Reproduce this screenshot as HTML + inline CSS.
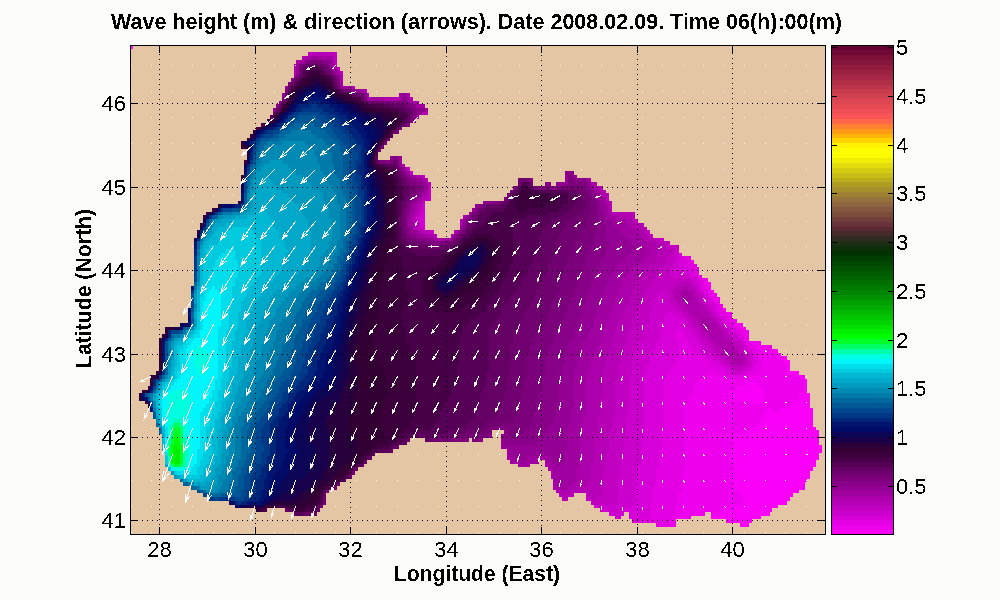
<!DOCTYPE html><html><head><meta charset="utf-8"><style>html,body{margin:0;padding:0;background:#fcfdfb;overflow:hidden}svg{display:block}text{font-family:"Liberation Sans",sans-serif;font-size:22px;fill:#000}</style></head><body><svg width="1000" height="600" viewBox="0 0 1000 600" shape-rendering="crispEdges"><defs><filter id="crisp" x="0" y="0" width="1000" height="600" filterUnits="userSpaceOnUse" color-interpolation-filters="sRGB"><feComponentTransfer><feFuncA type="discrete" tableValues="0 1"/></feComponentTransfer></filter></defs><rect width="1000" height="600" fill="#fcfdfb"/><rect x="130" y="45" width="695" height="489" fill="#e4c6a4"/><path fill="#f900f9" d="M708 282h3v4h-3zM740 323h3v4h-3zM775 349h3v4h-3zM778 353h3v3h-3zM784 356h3v4h-3zM784 360h6v4h-6zM787 364h3v7h-3zM787 371h12v4h-12zM799 375h6v4h-6zM746 382h12v4h-12zM737 386h24v4h-24zM805 379h2v11h-2zM802 390h5v3h-5zM729 390h35v3h-35zM732 393h32v4h-32zM734 397h30v4h-30zM799 393h11v8h-11zM793 401h17v3h-17zM752 401h12v3h-12zM790 404h20v4h-20zM781 408h32v4h-32zM767 408h5v4h-5zM764 412h49v7h-49zM761 419h52v4h-52zM758 423h55v4h-55zM752 427h64v3h-64zM746 430h73v4h-73zM734 434h85v4h-85zM732 438h87v7h-87zM732 445h90v8h-90zM732 453h87v7h-87zM732 460h84v7h-84zM732 467h81v4h-81zM732 471h78v8h-78zM732 479h75v3h-75zM732 482h73v4h-73zM734 486h71v4h-71zM737 490h62v3h-62zM740 493h53v4h-53zM743 497h47v4h-47zM743 501h44v4h-44zM729 505h49v3h-49zM723 508h49v4h-49zM720 512h50v4h-50zM711 516h50v3h-50zM726 519h26v4h-26zM740 523h9v4h-9z"/><path fill="#ee00ee" d="M705 278h3v8h-3zM708 286h3v4h-3zM708 290h6v3h-6zM711 293h6v4h-6zM714 297h6v4h-6zM717 301h3v3h-3zM720 304h3v4h-3zM723 308h3v4h-3zM726 312h6v4h-6zM729 316h3v3h-3zM732 319h5v4h-5zM734 323h6v4h-6zM737 327h9v3h-9zM743 330h6v4h-6zM746 334h3v7h-3zM752 341h9v4h-9zM755 345h17v4h-17zM758 349h17v4h-17zM761 353h17v3h-17zM761 356h23v8h-23zM761 364h26v7h-26zM758 371h29v4h-29zM711 371h3v4h-3zM749 375h50v4h-50zM705 375h18v4h-18zM699 379h106v3h-106zM758 382h47v4h-47zM697 382h49v4h-49zM761 386h44v4h-44zM694 386h43v4h-43zM694 390h35v3h-35zM764 390h38v3h-38zM691 393h41v4h-41zM688 397h46v4h-46zM764 393h35v8h-35zM688 401h64v3h-64zM764 401h29v3h-29zM685 404h105v4h-105zM772 408h9v4h-9zM685 408h82v4h-82zM685 412h79v7h-79zM685 419h76v4h-76zM685 423h73v4h-73zM685 427h67v3h-67zM685 430h61v4h-61zM685 434h49v4h-49zM685 438h47v33h-47zM682 471h50v15h-50zM682 486h52v4h-52zM682 490h55v3h-55zM679 493h61v4h-61zM679 497h64v8h-64zM676 505h53v3h-53zM676 508h47v4h-47zM711 512h9v4h-9zM676 512h29v4h-29zM673 516h18v3h-18zM673 519h3v4h-3zM670 523h6v4h-6z"/><path fill="#e300e3" d="M685 256h6v4h-6zM688 260h6v4h-6zM688 264h9v3h-9zM691 267h8v4h-8zM694 271h5v4h-5zM697 275h5v3h-5zM699 278h6v4h-6zM702 282h3v4h-3zM702 286h6v4h-6zM705 290h3v3h-3zM708 293h3v4h-3zM711 297h3v4h-3zM714 301h3v3h-3zM717 304h3v4h-3zM717 308h6v4h-6zM720 312h6v4h-6zM726 316h3v3h-3zM726 319h6v4h-6zM729 323h5v4h-5zM732 327h5v3h-5zM676 330h6v4h-6zM737 330h6v4h-6zM676 334h9v4h-9zM740 334h6v4h-6zM743 338h3v3h-3zM676 338h12v3h-12zM746 341h6v4h-6zM679 341h9v4h-9zM679 345h12v4h-12zM749 345h6v4h-6zM752 349h6v4h-6zM679 349h15v4h-15zM679 353h20v3h-20zM676 356h29v4h-29zM755 353h6v7h-6zM758 360h3v4h-3zM676 360h35v4h-35zM755 364h6v3h-6zM673 364h44v3h-44zM670 367h53v4h-53zM752 367h9v4h-9zM749 371h9v4h-9zM667 371h44v4h-44zM714 371h12v4h-12zM723 375h26v4h-26zM667 375h38v4h-38zM664 379h35v3h-35zM664 382h33v4h-33zM664 386h30v7h-30zM664 393h27v4h-27zM664 397h24v7h-24zM664 404h21v26h-21zM661 430h24v19h-24zM659 449h26v18h-26zM656 467h29v4h-29zM656 471h26v15h-26zM653 486h29v7h-29zM653 493h26v12h-26zM650 505h26v11h-26zM650 516h23v3h-23zM641 519h32v4h-32zM656 523h14v4h-14z"/><path fill="#d800d8" d="M422 212h3v15h-3zM679 253h3v3h-3zM679 256h6v4h-6zM679 260h9v7h-9zM682 267h9v4h-9zM685 271h9v4h-9zM691 275h6v3h-6zM697 278h2v4h-2zM699 282h3v8h-3zM702 290h3v3h-3zM705 293h3v4h-3zM708 297h3v4h-3zM711 301h3v3h-3zM714 304h3v8h-3zM667 312h6v4h-6zM717 312h3v4h-3zM664 316h15v3h-15zM720 316h6v3h-6zM723 319h3v4h-3zM664 319h21v4h-21zM661 323h24v4h-24zM726 323h3v4h-3zM729 327h3v3h-3zM661 327h27v3h-27zM661 330h15v4h-15zM732 330h5v4h-5zM682 330h9v4h-9zM685 334h9v4h-9zM737 334h3v4h-3zM740 338h3v3h-3zM659 334h17v7h-17zM688 338h9v3h-9zM688 341h11v4h-11zM743 341h3v4h-3zM656 341h23v8h-23zM746 345h3v4h-3zM691 345h11v4h-11zM694 349h11v4h-11zM749 349h3v4h-3zM653 349h26v7h-26zM699 353h12v3h-12zM705 356h9v4h-9zM752 353h3v7h-3zM650 356h26v8h-26zM711 360h9v4h-9zM752 360h6v4h-6zM717 364h6v3h-6zM647 364h26v3h-26zM752 364h3v3h-3zM647 367h23v4h-23zM749 367h3v4h-3zM723 367h6v4h-6zM743 371h6v4h-6zM726 371h6v4h-6zM644 371h23v8h-23zM644 379h20v51h-20zM644 430h17v8h-17zM641 438h20v11h-20zM641 449h18v15h-18zM638 464h21v3h-21zM638 467h18v12h-18zM635 479h21v7h-21zM635 486h18v19h-18zM632 505h18v3h-18zM624 508h26v4h-26zM621 512h3v4h-3zM609 512h3v4h-3zM629 512h21v7h-21zM632 519h9v4h-9z"/><path fill="#cc00cc" d="M422 204h3v8h-3zM419 215h3v12h-3zM422 227h3v3h-3zM661 238h3v3h-3zM676 249h3v11h-3zM673 260h6v7h-6zM670 267h12v4h-12zM670 271h15v4h-15zM670 275h21v3h-21zM691 278h6v4h-6zM694 282h5v4h-5zM697 286h2v4h-2zM659 290h5v3h-5zM699 290h3v3h-3zM702 293h3v4h-3zM656 293h11v4h-11zM653 297h14v4h-14zM702 297h6v4h-6zM705 301h6v3h-6zM653 301h17v3h-17zM708 304h6v4h-6zM653 304h20v4h-20zM653 308h23v4h-23zM711 308h3v4h-3zM673 312h9v4h-9zM650 312h17v4h-17zM714 312h3v4h-3zM679 316h6v3h-6zM717 316h3v3h-3zM650 316h14v7h-14zM685 319h3v4h-3zM720 319h3v4h-3zM723 323h3v4h-3zM685 323h6v4h-6zM726 327h3v3h-3zM688 327h6v3h-6zM647 323h14v7h-14zM644 330h17v4h-17zM729 330h3v4h-3zM691 330h6v4h-6zM732 334h5v4h-5zM694 334h5v4h-5zM644 334h15v4h-15zM734 338h6v3h-6zM697 338h5v3h-5zM641 338h18v3h-18zM740 341h3v4h-3zM699 341h6v4h-6zM743 345h3v4h-3zM638 341h18v8h-18zM702 345h6v4h-6zM705 349h6v4h-6zM743 349h6v4h-6zM711 353h6v3h-6zM635 349h18v7h-18zM714 356h6v4h-6zM635 356h15v4h-15zM632 360h18v4h-18zM720 360h3v4h-3zM749 353h3v14h-3zM723 364h6v3h-6zM729 367h3v4h-3zM632 364h15v7h-15zM743 367h6v4h-6zM632 371h12v4h-12zM732 371h11v4h-11zM629 375h15v41h-15zM626 416h18v22h-18zM624 438h17v18h-17zM621 456h20v8h-20zM621 464h17v11h-17zM618 475h20v4h-20zM618 479h17v26h-17zM594 505h38v3h-38zM600 508h24v4h-24zM612 512h9v4h-9zM615 516h6v3h-6z"/><path fill="#c100c1" d="M334 52h3v12h-3zM407 167h3v4h-3zM410 171h3v4h-3zM422 175h3v3h-3zM428 186h3v15h-3zM422 201h3v3h-3zM419 208h3v7h-3zM635 219h3v4h-3zM416 215h3v8h-3zM419 227h3v3h-3zM428 230h6v4h-6zM647 230h3v4h-3zM650 234h3v4h-3zM656 238h5v3h-5zM667 241h3v4h-3zM667 245h12v4h-12zM673 249h3v4h-3zM670 253h6v3h-6zM667 256h9v4h-9zM667 260h6v4h-6zM664 264h9v3h-9zM659 267h11v8h-11zM656 275h14v3h-14zM653 278h38v4h-38zM650 282h29v4h-29zM691 282h3v4h-3zM647 286h26v4h-26zM694 286h3v4h-3zM697 290h2v3h-2zM647 290h12v3h-12zM664 290h9v3h-9zM644 293h12v4h-12zM644 297h9v4h-9zM667 293h6v8h-6zM699 293h3v8h-3zM641 301h12v3h-12zM670 301h6v3h-6zM702 301h3v3h-3zM673 304h6v4h-6zM705 304h3v4h-3zM708 308h3v4h-3zM676 308h6v4h-6zM638 304h15v8h-15zM711 312h3v4h-3zM682 312h6v4h-6zM635 312h15v7h-15zM714 316h3v3h-3zM685 316h6v3h-6zM717 319h3v4h-3zM688 319h6v4h-6zM632 319h18v4h-18zM720 323h3v4h-3zM691 323h3v4h-3zM632 323h15v4h-15zM694 327h5v3h-5zM629 327h18v3h-18zM723 327h3v3h-3zM697 330h5v4h-5zM726 330h3v4h-3zM629 330h15v4h-15zM699 334h3v4h-3zM729 334h3v4h-3zM626 334h18v4h-18zM732 338h2v3h-2zM626 338h15v3h-15zM702 338h6v3h-6zM705 341h6v4h-6zM626 341h12v4h-12zM734 341h6v4h-6zM624 345h14v4h-14zM737 345h6v4h-6zM708 345h6v4h-6zM740 349h3v4h-3zM624 349h11v4h-11zM711 349h6v4h-6zM717 353h3v3h-3zM743 353h6v3h-6zM720 356h6v4h-6zM621 353h14v7h-14zM723 360h6v4h-6zM746 356h3v8h-3zM621 360h11v4h-11zM743 364h6v3h-6zM729 364h3v3h-3zM732 367h11v4h-11zM618 364h14v11h-14zM618 375h11v7h-11zM615 382h14v34h-14zM612 416h14v14h-14zM609 430h17v8h-17zM609 438h15v15h-15zM606 453h18v3h-18zM606 456h15v15h-15zM603 471h18v4h-18zM586 493h2v4h-2zM603 475h15v22h-15zM597 497h21v4h-21zM586 497h5v4h-5zM591 501h27v4h-27z"/><path fill="#b600b6" d="M308 52h26v4h-26zM334 64h3v3h-3zM337 67h3v4h-3zM340 71h3v4h-3zM352 86h3v3h-3zM425 112h3v3h-3zM419 175h3v3h-3zM425 178h3v4h-3zM428 182h3v4h-3zM600 186h3v4h-3zM603 190h3v3h-3zM425 197h3v4h-3zM606 193h3v8h-3zM419 204h3v4h-3zM609 201h3v11h-3zM612 212h23v3h-23zM416 212h3v3h-3zM413 215h3v8h-3zM632 215h3v8h-3zM635 223h9v4h-9zM416 223h3v7h-3zM422 230h6v4h-6zM644 227h3v7h-3zM647 234h3v4h-3zM434 234h3v4h-3zM650 238h6v3h-6zM656 241h11v4h-11zM659 245h8v4h-8zM661 249h12v4h-12zM659 253h11v3h-11zM656 256h11v8h-11zM650 264h14v3h-14zM647 267h12v4h-12zM644 271h15v4h-15zM641 275h15v3h-15zM638 278h15v4h-15zM635 282h15v4h-15zM679 282h12v4h-12zM673 286h9v4h-9zM635 286h12v4h-12zM688 286h6v4h-6zM694 290h3v3h-3zM632 290h15v3h-15zM694 293h5v4h-5zM632 293h12v4h-12zM673 290h3v11h-3zM629 297h15v4h-15zM697 297h2v4h-2zM676 301h6v3h-6zM699 301h3v3h-3zM629 301h12v3h-12zM626 304h12v4h-12zM702 304h3v4h-3zM679 304h6v4h-6zM705 308h3v4h-3zM624 308h14v4h-14zM682 308h6v4h-6zM688 312h3v4h-3zM708 312h3v4h-3zM621 312h14v7h-14zM691 316h3v3h-3zM711 316h3v3h-3zM694 319h3v4h-3zM714 319h3v4h-3zM694 323h5v4h-5zM717 323h3v4h-3zM618 319h14v8h-14zM720 327h3v3h-3zM699 327h3v3h-3zM615 327h14v7h-14zM723 330h3v4h-3zM702 330h3v4h-3zM723 334h6v4h-6zM702 334h6v4h-6zM615 334h11v4h-11zM726 338h6v3h-6zM708 338h3v3h-3zM732 341h2v4h-2zM612 338h14v7h-14zM711 341h6v4h-6zM734 345h3v4h-3zM612 345h12v4h-12zM714 345h6v4h-6zM609 349h15v4h-15zM717 349h6v4h-6zM737 349h3v4h-3zM740 353h3v3h-3zM609 353h12v3h-12zM720 353h6v3h-6zM726 356h3v4h-3zM729 360h5v4h-5zM743 356h3v8h-3zM606 356h15v8h-15zM606 364h12v3h-12zM732 364h11v3h-11zM603 367h15v15h-15zM603 382h12v15h-12zM600 397h15v19h-15zM597 416h15v14h-15zM597 430h12v8h-12zM594 438h15v15h-15zM594 453h12v11h-12zM591 464h15v7h-15zM591 471h12v11h-12zM588 482h15v4h-15zM583 486h20v4h-20zM556 490h3v3h-3zM571 490h32v3h-32zM565 493h9v4h-9zM559 493h3v4h-3zM588 493h15v4h-15zM591 497h6v4h-6zM562 497h6v4h-6z"/><path fill="#ab00ab" d="M302 56h9v4h-9zM332 56h2v4h-2zM296 60h3v4h-3zM294 64h2v11h-2zM337 71h3v4h-3zM340 75h3v7h-3zM364 89h3v4h-3zM367 93h2v4h-2zM407 93h3v4h-3zM384 97h15v4h-15zM410 97h3v4h-3zM413 101h6v3h-6zM422 112h3v3h-3zM402 164h3v3h-3zM416 175h3v3h-3zM594 182h3v4h-3zM594 186h6v4h-6zM600 190h3v3h-3zM603 193h3v4h-3zM425 193h3v4h-3zM422 197h3v4h-3zM606 201h3v3h-3zM419 201h3v3h-3zM416 204h3v8h-3zM413 212h3v3h-3zM609 212h3v3h-3zM463 215h3v4h-3zM615 215h17v4h-17zM626 219h6v4h-6zM629 223h6v4h-6zM460 219h3v8h-3zM413 223h3v7h-3zM632 227h12v3h-12zM454 230h3v4h-3zM638 230h6v4h-6zM419 230h3v4h-3zM641 234h6v4h-6zM428 234h6v4h-6zM451 234h3v4h-3zM644 238h6v3h-6zM437 238h5v3h-5zM647 241h9v4h-9zM647 245h12v4h-12zM650 249h11v4h-11zM647 253h12v3h-12zM644 256h12v4h-12zM641 260h15v4h-15zM638 264h12v3h-12zM632 267h15v4h-15zM629 271h15v4h-15zM626 275h15v3h-15zM624 278h14v4h-14zM682 286h6v4h-6zM621 282h14v8h-14zM688 290h6v3h-6zM691 293h3v4h-3zM618 290h14v7h-14zM691 297h6v4h-6zM676 290h6v11h-6zM682 301h17v3h-17zM615 297h14v7h-14zM685 304h17v4h-17zM612 304h14v4h-14zM688 308h17v4h-17zM612 308h12v4h-12zM691 312h17v4h-17zM609 312h12v7h-12zM694 316h17v3h-17zM708 319h6v4h-6zM697 319h5v4h-5zM711 323h6v4h-6zM699 323h6v4h-6zM606 319h12v8h-12zM606 327h9v3h-9zM711 327h9v3h-9zM702 327h6v3h-6zM705 330h18v4h-18zM603 330h12v8h-12zM708 334h15v4h-15zM711 338h15v3h-15zM600 338h12v7h-12zM717 341h15v4h-15zM597 345h15v4h-15zM720 345h14v4h-14zM723 349h14v4h-14zM597 349h12v4h-12zM594 353h15v3h-15zM726 353h14v3h-14zM729 356h14v4h-14zM594 356h12v4h-12zM734 360h9v4h-9zM591 360h15v7h-15zM591 367h12v4h-12zM588 371h15v8h-15zM586 379h17v18h-17zM586 397h14v19h-14zM583 416h14v22h-14zM580 438h14v26h-14zM545 464h3v3h-3zM580 464h11v3h-11zM548 467h3v4h-3zM551 471h2v8h-2zM577 467h14v15h-14zM571 482h17v4h-17zM553 482h3v4h-3zM568 486h15v4h-15zM553 486h6v4h-6zM559 490h12v3h-12zM562 493h3v4h-3z"/><path fill="#9f009f" d="M317 56h15v4h-15zM299 60h6v4h-6zM332 60h2v7h-2zM296 64h3v3h-3zM334 67h3v4h-3zM340 82h3v4h-3zM343 86h9v3h-9zM361 89h3v4h-3zM367 97h17v4h-17zM399 93h3v8h-3zM407 97h3v4h-3zM410 101h3v3h-3zM416 104h9v4h-9zM425 108h3v4h-3zM416 115h3v4h-3zM399 160h3v4h-3zM405 167h2v4h-2zM407 171h3v4h-3zM413 175h3v3h-3zM588 178h3v4h-3zM422 178h3v4h-3zM591 182h3v4h-3zM425 182h3v11h-3zM597 190h3v3h-3zM600 193h3v4h-3zM422 193h3v4h-3zM419 197h3v4h-3zM416 201h3v3h-3zM603 197h3v7h-3zM413 204h3v8h-3zM606 204h3v11h-3zM606 215h9v4h-9zM612 219h14v4h-14zM410 212h3v15h-3zM615 223h14v4h-14zM618 227h14v3h-14zM621 230h17v4h-17zM416 230h3v4h-3zM624 234h17v4h-17zM422 234h6v4h-6zM442 238h9v3h-9zM434 238h3v3h-3zM629 238h15v3h-15zM632 241h15v4h-15zM635 245h12v4h-12zM635 249h15v4h-15zM629 253h18v3h-18zM626 256h18v4h-18zM621 260h20v4h-20zM618 264h20v3h-20zM615 267h17v4h-17zM612 271h17v4h-17zM609 275h17v3h-17zM609 278h15v4h-15zM606 282h15v8h-15zM682 290h6v3h-6zM603 290h15v7h-15zM682 293h9v8h-9zM600 297h15v7h-15zM600 304h12v4h-12zM597 308h15v4h-15zM597 312h12v4h-12zM594 316h15v3h-15zM702 319h6v4h-6zM705 323h6v4h-6zM594 319h12v8h-12zM708 327h3v3h-3zM591 327h15v3h-15zM588 330h15v8h-15zM586 338h14v3h-14zM583 341h17v4h-17zM583 345h14v4h-14zM580 349h17v4h-17zM580 353h14v7h-14zM577 360h14v11h-14zM574 371h14v8h-14zM574 379h12v29h-12zM571 408h15v8h-15zM571 416h12v7h-12zM568 423h15v15h-15zM568 438h12v11h-12zM507 449h3v7h-3zM542 453h3v3h-3zM527 456h24v4h-24zM507 456h6v4h-6zM510 460h11v4h-11zM545 460h8v4h-8zM524 460h15v4h-15zM565 449h15v15h-15zM548 464h8v3h-8zM562 464h18v3h-18zM518 464h12v3h-12zM551 467h26v4h-26zM553 471h24v11h-24zM556 482h15v4h-15zM559 486h9v4h-9z"/><path fill="#940094" d="M311 56h6v4h-6zM329 60h3v7h-3zM332 67h2v4h-2zM334 71h3v4h-3zM296 67h3v8h-3zM294 75h2v3h-2zM340 86h3v3h-3zM285 86h3v3h-3zM355 89h6v4h-6zM402 93h5v4h-5zM282 93h3v4h-3zM419 112h3v3h-3zM413 119h3v4h-3zM399 156h3v4h-3zM399 164h3v3h-3zM402 167h3v4h-3zM405 171h2v4h-2zM410 175h3v3h-3zM574 175h3v3h-3zM586 178h2v4h-2zM416 178h6v4h-6zM565 175h3v7h-3zM556 182h9v4h-9zM422 182h3v4h-3zM588 182h3v4h-3zM591 186h3v4h-3zM594 190h3v3h-3zM422 190h3v3h-3zM597 193h3v4h-3zM419 193h3v4h-3zM597 197h6v4h-6zM416 197h3v4h-3zM483 201h3v3h-3zM413 201h3v3h-3zM600 201h3v3h-3zM475 204h3v4h-3zM600 204h6v8h-6zM410 204h3v8h-3zM472 208h3v4h-3zM469 212h3v3h-3zM466 215h3v4h-3zM603 212h3v7h-3zM463 219h3v4h-3zM603 219h9v4h-9zM407 215h3v12h-3zM606 223h9v4h-9zM410 227h3v3h-3zM606 227h12v3h-12zM460 227h3v3h-3zM410 230h6v4h-6zM606 230h15v4h-15zM457 230h3v4h-3zM416 234h6v4h-6zM606 234h18v4h-18zM606 238h23v3h-23zM431 238h3v3h-3zM609 241h23v4h-23zM609 245h26v4h-26zM606 249h29v4h-29zM606 253h23v3h-23zM603 256h23v4h-23zM600 260h21v4h-21zM600 264h18v3h-18zM597 267h18v4h-18zM597 271h15v4h-15zM594 275h15v7h-15zM591 282h15v8h-15zM588 290h15v7h-15zM586 297h14v7h-14zM583 304h17v4h-17zM583 308h14v8h-14zM580 316h14v7h-14zM577 323h17v4h-17zM577 327h14v3h-14zM574 330h14v8h-14zM571 338h15v3h-15zM568 341h15v8h-15zM568 349h12v4h-12zM565 353h15v7h-15zM565 360h12v4h-12zM562 364h15v7h-15zM562 371h12v4h-12zM559 375h15v29h-15zM556 404h18v4h-18zM556 408h15v8h-15zM553 416h18v7h-18zM551 423h17v4h-17zM548 427h20v3h-20zM545 430h23v8h-23zM539 438h29v4h-29zM501 442h3v3h-3zM536 442h32v3h-32zM501 445h67v4h-67zM510 449h55v4h-55zM510 453h32v3h-32zM545 453h20v3h-20zM551 456h14v4h-14zM513 456h14v4h-14zM553 460h12v4h-12zM521 460h3v4h-3zM556 464h6v3h-6z"/><path fill="#880088" d="M323 60h6v4h-6zM337 75h3v7h-3zM291 78h3v4h-3zM352 89h3v4h-3zM364 93h3v4h-3zM402 97h5v4h-5zM279 101h3v3h-3zM407 101h3v3h-3zM413 104h3v4h-3zM276 104h3v4h-3zM416 108h9v4h-9zM273 108h3v4h-3zM416 112h3v3h-3zM413 115h3v4h-3zM396 156h3v4h-3zM390 156h3v4h-3zM387 160h3v4h-3zM565 171h9v4h-9zM571 175h3v3h-3zM407 175h3v3h-3zM410 178h6v4h-6zM574 178h12v4h-12zM416 182h6v4h-6zM565 182h3v4h-3zM586 182h2v4h-2zM545 182h6v4h-6zM422 186h3v4h-3zM586 186h5v4h-5zM513 186h2v4h-2zM553 186h3v4h-3zM591 190h3v3h-3zM419 190h3v3h-3zM591 193h6v4h-6zM416 193h3v4h-3zM413 197h3v4h-3zM594 197h3v4h-3zM410 201h3v3h-3zM486 201h12v3h-12zM478 204h2v4h-2zM597 201h3v11h-3zM407 208h3v7h-3zM597 212h6v11h-6zM463 223h3v4h-3zM597 223h9v11h-9zM407 227h3v7h-3zM454 234h3v4h-3zM410 234h6v4h-6zM451 238h3v3h-3zM419 238h12v3h-12zM594 234h12v7h-12zM594 241h15v4h-15zM434 241h3v4h-3zM591 245h18v4h-18zM588 249h18v7h-18zM586 256h17v4h-17zM586 260h14v4h-14zM583 264h17v3h-17zM583 267h14v4h-14zM580 271h17v4h-17zM580 275h14v3h-14zM577 278h17v4h-17zM577 282h14v8h-14zM574 290h14v7h-14zM571 297h15v7h-15zM568 304h15v8h-15zM565 312h18v4h-18zM565 316h15v3h-15zM562 319h18v4h-18zM562 323h15v4h-15zM559 327h18v3h-18zM559 330h15v4h-15zM556 334h18v4h-18zM553 338h18v3h-18zM553 341h15v4h-15zM551 345h17v4h-17zM548 349h20v4h-20zM548 353h17v3h-17zM545 356h20v8h-20zM545 364h17v11h-17zM542 375h17v15h-17zM539 390h20v11h-20zM536 401h23v3h-23zM536 404h20v8h-20zM533 412h23v4h-23zM533 416h20v7h-20zM530 423h21v4h-21zM530 427h18v3h-18zM498 427h9v3h-9zM524 430h21v4h-21zM504 430h3v4h-3zM501 434h9v4h-9zM489 434h3v4h-3zM518 434h27v4h-27zM478 438h5v4h-5zM501 438h38v4h-38zM466 438h3v4h-3zM504 442h32v3h-32z"/><path fill="#7c007c" d="M317 60h6v4h-6zM305 60h9v4h-9zM299 64h3v3h-3zM326 64h3v3h-3zM329 67h3v4h-3zM332 71h2v4h-2zM296 75h3v3h-3zM288 82h3v4h-3zM337 82h3v4h-3zM285 89h3v4h-3zM282 97h3v4h-3zM364 97h3v4h-3zM384 101h23v3h-23zM407 104h6v4h-6zM413 108h3v7h-3zM410 119h3v4h-3zM407 123h3v4h-3zM396 130h3v4h-3zM393 156h3v4h-3zM381 160h6v4h-6zM390 160h3v4h-3zM399 167h3v4h-3zM402 171h3v4h-3zM405 175h2v3h-2zM568 175h3v3h-3zM530 178h3v4h-3zM568 178h6v4h-6zM407 178h3v4h-3zM568 182h18v4h-18zM410 182h6v4h-6zM583 186h3v4h-3zM536 186h9v4h-9zM551 186h2v4h-2zM556 186h3v4h-3zM416 186h6v4h-6zM586 190h5v3h-5zM416 190h3v3h-3zM588 193h3v4h-3zM507 193h3v4h-3zM413 193h3v4h-3zM504 197h3v4h-3zM591 197h3v4h-3zM410 197h3v4h-3zM498 201h3v3h-3zM407 201h3v7h-3zM480 204h3v4h-3zM475 208h3v4h-3zM472 212h3v3h-3zM591 201h6v14h-6zM588 215h9v4h-9zM469 215h3v4h-3zM466 219h3v4h-3zM586 219h11v8h-11zM463 227h3v3h-3zM583 227h14v3h-14zM405 208h2v22h-2zM580 230h17v4h-17zM460 230h3v4h-3zM457 234h3v4h-3zM580 234h14v4h-14zM407 234h3v4h-3zM577 238h17v3h-17zM413 238h6v3h-6zM428 241h6v4h-6zM437 241h11v4h-11zM574 241h20v4h-20zM574 245h17v4h-17zM571 249h17v7h-17zM568 256h18v8h-18zM565 264h18v7h-18zM565 271h15v4h-15zM562 275h18v3h-18zM562 278h15v4h-15zM559 282h18v8h-18zM559 290h15v3h-15zM556 293h18v4h-18zM556 297h15v4h-15zM553 301h18v3h-18zM551 304h17v8h-17zM548 312h17v7h-17zM545 319h17v8h-17zM542 327h17v3h-17zM539 330h20v4h-20zM536 334h20v4h-20zM533 338h20v7h-20zM530 345h21v4h-21zM530 349h18v7h-18zM527 356h18v19h-18zM527 375h15v4h-15zM524 379h18v11h-18zM521 390h18v11h-18zM518 401h18v11h-18zM518 412h15v4h-15zM515 416h18v3h-18zM513 419h20v4h-20zM501 423h29v4h-29zM489 427h9v3h-9zM507 427h23v3h-23zM507 430h17v4h-17zM489 430h3v4h-3zM480 434h9v4h-9zM510 434h8v4h-8zM469 434h3v4h-3zM451 438h15v4h-15zM472 438h6v4h-6z"/><path fill="#710071" d="M314 60h3v4h-3zM302 64h3v3h-3zM323 64h3v3h-3zM326 67h3v4h-3zM299 67h3v8h-3zM329 71h3v4h-3zM334 75h3v3h-3zM337 86h3v3h-3zM346 89h6v4h-6zM361 93h3v4h-3zM369 101h15v3h-15zM405 104h2v4h-2zM410 108h3v4h-3zM410 115h3v4h-3zM405 123h2v4h-2zM399 127h3v3h-3zM387 138h3v3h-3zM384 141h3v4h-3zM381 145h3v4h-3zM378 149h3v3h-3zM378 160h3v4h-3zM396 160h3v7h-3zM399 171h3v4h-3zM402 175h3v3h-3zM518 178h12v4h-12zM405 178h2v4h-2zM518 182h3v4h-3zM407 182h3v4h-3zM530 182h3v4h-3zM545 186h6v4h-6zM533 186h3v4h-3zM515 186h3v4h-3zM559 186h24v4h-24zM510 190h3v3h-3zM410 186h6v7h-6zM577 190h9v3h-9zM410 193h3v4h-3zM583 193h5v4h-5zM407 197h3v4h-3zM583 197h8v4h-8zM501 201h3v3h-3zM405 201h2v7h-2zM483 204h3v4h-3zM586 201h5v7h-5zM583 208h8v4h-8zM478 208h2v4h-2zM475 212h3v3h-3zM580 212h11v3h-11zM574 215h14v4h-14zM472 215h3v4h-3zM469 219h3v4h-3zM568 219h18v4h-18zM466 223h3v4h-3zM565 223h21v4h-21zM402 208h3v22h-3zM562 227h21v3h-21zM402 230h5v4h-5zM562 230h18v4h-18zM463 230h3v4h-3zM405 234h2v4h-2zM559 234h21v4h-21zM454 238h3v3h-3zM559 238h18v3h-18zM407 238h6v3h-6zM448 241h6v4h-6zM416 241h12v4h-12zM556 241h18v8h-18zM428 245h12v4h-12zM556 249h15v4h-15zM553 253h18v3h-18zM553 256h15v4h-15zM551 260h17v4h-17zM548 264h17v7h-17zM545 271h20v4h-20zM545 275h17v3h-17zM542 278h20v4h-20zM539 282h20v8h-20zM536 290h23v3h-23zM536 293h20v4h-20zM533 297h23v4h-23zM530 301h23v3h-23zM530 304h21v4h-21zM527 308h24v4h-24zM524 312h24v7h-24zM521 319h24v4h-24zM518 323h27v4h-27zM518 327h24v3h-24zM515 330h24v4h-24zM513 334h23v4h-23zM513 338h20v7h-20zM510 345h20v11h-20zM510 356h17v19h-17zM507 375h20v4h-20zM507 379h17v11h-17zM504 390h17v11h-17zM501 401h17v7h-17zM498 408h20v8h-20zM495 416h20v3h-20zM489 419h24v4h-24zM486 423h15v4h-15zM483 427h6v3h-6zM466 430h23v4h-23zM472 434h8v4h-8zM460 434h9v4h-9zM431 438h20v4h-20zM352 471h3v4h-3zM349 475h3v4h-3zM334 486h3v4h-3zM326 490h3v3h-3zM323 497h3v8h-3zM320 505h3v3h-3z"/><path fill="#650065" d="M317 64h6v3h-6zM305 64h6v3h-6zM302 67h3v4h-3zM323 67h3v4h-3zM326 71h3v4h-3zM332 75h2v3h-2zM299 75h3v3h-3zM294 78h5v4h-5zM334 78h3v8h-3zM291 82h3v4h-3zM288 86h3v3h-3zM340 89h6v4h-6zM285 93h3v4h-3zM352 93h9v4h-9zM361 97h3v4h-3zM367 101h2v3h-2zM282 101h3v3h-3zM279 104h3v4h-3zM393 104h12v4h-12zM276 108h3v4h-3zM405 108h5v4h-5zM410 112h3v3h-3zM273 112h3v3h-3zM407 119h3v4h-3zM402 123h3v4h-3zM393 130h3v4h-3zM375 156h3v4h-3zM393 160h3v4h-3zM390 164h3v3h-3zM396 167h3v4h-3zM399 175h3v3h-3zM402 178h3v4h-3zM402 182h5v4h-5zM405 186h5v4h-5zM568 190h9v3h-9zM513 190h2v3h-2zM407 190h3v3h-3zM405 193h5v4h-5zM507 197h3v4h-3zM577 193h6v8h-6zM405 197h2v4h-2zM504 201h3v3h-3zM577 201h9v3h-9zM486 204h15v4h-15zM574 204h12v4h-12zM402 201h3v7h-3zM571 208h12v4h-12zM480 208h6v4h-6zM565 212h15v3h-15zM478 212h2v3h-2zM475 215h3v4h-3zM559 215h15v4h-15zM472 219h3v4h-3zM551 219h17v4h-17zM548 223h17v4h-17zM399 215h3v12h-3zM469 223h6v4h-6zM466 227h6v3h-6zM542 227h20v7h-20zM402 234h3v4h-3zM460 234h3v4h-3zM457 238h3v3h-3zM402 238h5v3h-5zM539 234h20v7h-20zM454 241h3v4h-3zM407 241h9v4h-9zM539 241h17v8h-17zM413 245h15v4h-15zM440 245h11v4h-11zM536 249h20v4h-20zM536 253h17v3h-17zM533 256h20v4h-20zM533 260h18v4h-18zM530 264h18v3h-18zM527 267h21v4h-21zM527 271h18v4h-18zM524 275h21v3h-21zM521 278h21v4h-21zM521 282h18v4h-18zM518 286h21v4h-21zM515 290h21v3h-21zM513 293h23v4h-23zM510 297h23v4h-23zM507 301h23v3h-23zM504 304h26v4h-26zM501 308h26v4h-26zM501 312h23v4h-23zM498 316h26v3h-26zM495 319h26v4h-26zM492 323h26v4h-26zM489 327h29v3h-29zM489 330h26v4h-26zM489 334h24v11h-24zM489 345h21v26h-21zM486 371h24v4h-24zM486 375h21v11h-21zM483 386h24v4h-24zM483 390h21v3h-21zM480 393h24v8h-24zM478 401h23v7h-23zM475 408h23v8h-23zM475 416h20v3h-20zM472 419h17v4h-17zM466 423h20v4h-20zM460 427h23v3h-23zM448 430h18v4h-18zM437 434h23v4h-23zM419 434h6v4h-6zM425 438h6v4h-6zM407 438h3v4h-3zM402 442h5v3h-5zM393 445h6v4h-6zM390 449h3v4h-3zM369 456h3v4h-3zM364 460h3v4h-3zM361 464h3v3h-3zM355 467h3v4h-3zM337 482h3v4h-3zM323 493h3v4h-3zM317 508h3v4h-3zM285 508h3v4h-3zM294 512h2v4h-2zM305 512h12v4h-12z"/><path fill="#570057" d="M311 64h6v3h-6zM320 67h3v4h-3zM305 67h3v4h-3zM323 71h3v4h-3zM329 75h3v3h-3zM302 71h3v7h-3zM332 78h2v4h-2zM294 82h2v4h-2zM334 86h3v3h-3zM288 89h3v4h-3zM285 97h3v4h-3zM364 101h3v3h-3zM384 104h9v4h-9zM399 108h6v4h-6zM405 112h5v3h-5zM270 115h3v4h-3zM407 115h3v4h-3zM405 119h2v4h-2zM396 127h3v3h-3zM390 134h3v4h-3zM375 160h3v4h-3zM384 164h6v3h-6zM393 164h3v7h-3zM396 171h3v7h-3zM521 182h3v4h-3zM399 178h3v8h-3zM527 182h3v4h-3zM530 186h3v4h-3zM518 186h3v4h-3zM402 186h3v4h-3zM515 190h3v3h-3zM402 190h5v3h-5zM539 190h29v3h-29zM402 193h3v8h-3zM510 193h3v8h-3zM507 201h3v3h-3zM568 193h9v11h-9zM562 204h12v4h-12zM501 204h6v4h-6zM486 208h18v4h-18zM559 208h12v4h-12zM548 212h17v3h-17zM399 201h3v14h-3zM480 212h12v3h-12zM527 215h32v4h-32zM478 215h11v4h-11zM475 219h11v4h-11zM515 219h36v4h-36zM475 223h8v4h-8zM513 223h35v4h-35zM472 227h6v3h-6zM466 230h6v4h-6zM513 227h29v7h-29zM463 234h6v4h-6zM399 227h3v14h-3zM460 238h3v3h-3zM513 234h26v7h-26zM457 241h3v4h-3zM402 241h5v4h-5zM405 245h8v4h-8zM451 245h3v4h-3zM515 241h24v8h-24zM410 249h38v4h-38zM515 249h21v4h-21zM513 253h23v3h-23zM416 253h24v3h-24zM513 256h20v8h-20zM510 264h20v3h-20zM510 267h17v4h-17zM507 271h20v4h-20zM507 275h17v3h-17zM504 278h17v4h-17zM501 282h20v4h-20zM501 286h17v4h-17zM498 290h17v3h-17zM495 293h18v4h-18zM492 297h18v4h-18zM489 301h18v3h-18zM486 304h18v4h-18zM486 308h15v4h-15zM480 312h21v4h-21zM475 316h23v3h-23zM469 319h26v4h-26zM466 323h26v4h-26zM463 327h26v7h-26zM460 334h29v30h-29zM457 364h32v7h-32zM457 371h29v11h-29zM454 382h32v4h-32zM454 386h29v4h-29zM451 390h32v3h-32zM451 393h29v4h-29zM448 397h32v4h-32zM445 401h33v7h-33zM442 408h33v4h-33zM440 412h35v7h-35zM437 419h35v4h-35zM434 423h32v4h-32zM431 427h29v3h-29zM416 430h32v4h-32zM425 434h12v4h-12zM407 434h12v4h-12zM402 438h5v4h-5zM396 442h6v3h-6zM390 445h3v4h-3zM378 449h12v4h-12zM372 453h3v3h-3zM367 456h2v4h-2zM358 464h3v3h-3zM352 467h3v4h-3zM349 471h3v4h-3zM346 475h3v4h-3zM343 479h3v3h-3zM329 486h5v4h-5zM323 490h3v3h-3zM320 501h3v4h-3zM317 505h3v3h-3zM314 508h3v4h-3zM288 508h6v4h-6zM296 512h9v4h-9z"/><path fill="#470047" d="M308 67h12v4h-12zM320 71h3v4h-3zM326 75h3v3h-3zM305 71h3v7h-3zM329 78h3v4h-3zM299 78h3v4h-3zM332 82h2v4h-2zM296 82h3v4h-3zM291 86h3v3h-3zM337 89h3v4h-3zM288 93h3v4h-3zM349 93h3v4h-3zM355 97h6v4h-6zM361 101h3v3h-3zM285 101h3v3h-3zM369 104h15v4h-15zM279 108h3v4h-3zM390 108h9v4h-9zM399 112h6v3h-6zM402 115h5v4h-5zM402 119h3v4h-3zM267 119h3v4h-3zM399 123h3v4h-3zM261 123h3v4h-3zM256 127h3v3h-3zM390 130h3v4h-3zM384 138h3v3h-3zM381 141h3v4h-3zM378 145h3v4h-3zM375 152h3v4h-3zM378 164h6v3h-6zM387 167h6v4h-6zM390 171h6v4h-6zM393 175h3v3h-3zM396 178h3v8h-3zM524 182h3v4h-3zM396 186h6v4h-6zM527 186h3v4h-3zM521 186h3v4h-3zM530 190h9v3h-9zM518 190h3v3h-3zM399 190h3v7h-3zM513 193h5v4h-5zM548 193h20v4h-20zM513 197h2v4h-2zM396 197h6v4h-6zM510 201h5v3h-5zM556 197h12v7h-12zM545 204h17v4h-17zM507 204h8v4h-8zM527 208h32v4h-32zM504 208h14v4h-14zM492 212h56v3h-56zM489 215h38v4h-38zM486 219h29v4h-29zM483 223h30v4h-30zM478 227h35v3h-35zM472 230h41v4h-41zM469 234h6v4h-6zM492 234h21v4h-21zM463 238h6v3h-6zM498 238h15v3h-15zM396 201h3v40h-3zM460 241h3v4h-3zM396 241h6v4h-6zM396 245h9v4h-9zM454 245h6v4h-6zM448 249h6v4h-6zM501 241h14v12h-14zM399 249h11v4h-11zM440 253h8v3h-8zM399 253h17v3h-17zM402 256h43v4h-43zM402 260h38v4h-38zM501 253h12v11h-12zM402 264h35v3h-35zM402 267h29v4h-29zM498 264h12v7h-12zM402 271h26v4h-26zM405 275h20v3h-20zM495 271h12v7h-12zM492 278h12v4h-12zM405 278h17v4h-17zM492 282h9v4h-9zM489 286h12v4h-12zM486 290h12v3h-12zM407 282h15v11h-15zM410 293h12v4h-12zM483 293h12v4h-12zM478 297h14v4h-14zM407 297h15v4h-15zM407 301h18v3h-18zM472 301h17v3h-17zM466 304h20v4h-20zM405 304h23v4h-23zM460 308h26v4h-26zM402 308h32v4h-32zM402 312h78v4h-78zM402 316h73v3h-73zM402 319h67v4h-67zM402 323h64v4h-64zM405 327h58v7h-58zM405 334h55v4h-55zM407 338h53v7h-53zM410 345h50v8h-50zM413 353h47v7h-47zM416 360h44v4h-44zM416 364h41v18h-41zM416 382h38v8h-38zM416 390h35v7h-35zM416 397h32v4h-32zM416 401h29v7h-29zM413 408h29v4h-29zM413 412h27v7h-27zM410 419h27v4h-27zM410 423h24v4h-24zM407 427h24v3h-24zM402 430h14v4h-14zM399 434h8v4h-8zM396 438h6v4h-6zM390 442h6v3h-6zM381 445h9v4h-9zM372 449h6v4h-6zM369 453h3v3h-3zM364 456h3v4h-3zM361 460h3v4h-3zM355 464h3v3h-3zM340 479h3v3h-3zM334 482h3v4h-3zM326 486h3v4h-3zM320 493h3v8h-3zM317 501h3v4h-3zM314 505h3v3h-3zM279 505h6v3h-6zM294 508h2v4h-2zM305 508h9v4h-9zM261 508h6v4h-6z"/><path fill="#3b003b" d="M308 71h12v4h-12zM320 75h6v3h-6zM308 75h3v3h-3zM302 78h3v4h-3zM326 78h3v4h-3zM299 82h3v4h-3zM329 82h3v4h-3zM332 86h2v3h-2zM294 86h2v3h-2zM334 89h3v4h-3zM291 89h3v4h-3zM343 93h6v4h-6zM349 97h6v4h-6zM288 97h3v4h-3zM358 101h3v3h-3zM364 104h5v4h-5zM282 104h3v4h-3zM375 108h15v4h-15zM276 112h3v3h-3zM393 112h6v3h-6zM273 115h3v4h-3zM396 115h6v8h-6zM396 123h3v4h-3zM393 127h3v3h-3zM387 134h3v4h-3zM250 134h3v4h-3zM375 149h3v3h-3zM244 160h3v4h-3zM375 164h3v3h-3zM381 167h6v4h-6zM387 171h3v4h-3zM390 175h3v3h-3zM390 178h6v4h-6zM524 186h3v4h-3zM393 182h3v8h-3zM521 190h9v3h-9zM518 193h30v4h-30zM393 190h6v7h-6zM515 197h41v7h-41zM515 204h30v4h-30zM518 208h9v4h-9zM212 208h3v4h-3zM206 212h3v3h-3zM203 215h3v4h-3zM475 234h17v4h-17zM393 197h3v41h-3zM489 238h9v3h-9zM469 238h6v3h-6zM492 241h9v4h-9zM463 241h6v4h-6zM390 238h6v11h-6zM460 245h3v4h-3zM454 249h3v4h-3zM390 249h9v4h-9zM387 253h12v3h-12zM448 253h6v3h-6zM445 256h6v4h-6zM495 245h6v15h-6zM440 260h8v4h-8zM492 260h9v4h-9zM387 256h15v8h-15zM437 264h8v3h-8zM492 264h6v3h-6zM489 267h9v4h-9zM431 267h9v4h-9zM489 271h6v4h-6zM428 271h9v4h-9zM384 264h18v11h-18zM486 275h9v3h-9zM425 275h9v3h-9zM483 278h9v4h-9zM384 275h21v7h-21zM480 282h12v4h-12zM475 286h14v4h-14zM422 278h9v15h-9zM469 290h17v3h-17zM381 282h26v11h-26zM422 293h12v4h-12zM381 293h29v4h-29zM463 293h20v4h-20zM457 297h21v4h-21zM422 297h15v4h-15zM378 297h29v7h-29zM425 301h47v3h-47zM378 304h27v4h-27zM428 304h38v4h-38zM434 308h26v4h-26zM378 308h24v11h-24zM375 319h27v8h-27zM375 327h30v7h-30zM372 334h33v4h-33zM372 338h35v7h-35zM372 345h38v8h-38zM372 353h41v3h-41zM375 356h38v4h-38zM378 360h38v4h-38zM381 364h35v3h-35zM384 367h32v8h-32zM387 375h29v22h-29zM384 397h32v11h-32zM381 408h32v11h-32zM381 419h29v8h-29zM381 427h26v3h-26zM384 430h18v4h-18zM384 434h15v4h-15zM381 438h15v4h-15zM375 442h15v3h-15zM372 445h9v4h-9zM369 449h3v4h-3zM364 453h5v3h-5zM361 456h3v4h-3zM358 460h3v4h-3zM352 464h3v3h-3zM349 467h3v4h-3zM343 471h6v4h-6zM340 475h6v4h-6zM334 479h6v3h-6zM329 482h5v4h-5zM323 486h3v4h-3zM320 490h3v3h-3zM317 493h3v8h-3zM314 501h3v4h-3zM270 505h9v3h-9zM308 505h6v3h-6zM285 505h3v3h-3zM296 508h9v4h-9z"/><path fill="#320032" d="M311 75h9v3h-9zM305 78h6v4h-6zM320 78h6v4h-6zM326 82h3v4h-3zM302 82h6v4h-6zM329 86h3v3h-3zM296 86h6v3h-6zM294 89h2v4h-2zM337 93h6v4h-6zM291 93h3v4h-3zM346 97h3v4h-3zM288 101h3v3h-3zM355 101h3v3h-3zM285 104h3v4h-3zM361 104h3v4h-3zM282 108h3v4h-3zM367 108h8v4h-8zM384 112h9v3h-9zM390 115h6v4h-6zM270 119h3v4h-3zM264 123h3v4h-3zM393 119h3v8h-3zM259 127h2v3h-2zM390 127h3v3h-3zM387 130h3v4h-3zM384 134h3v4h-3zM247 138h3v3h-3zM381 138h3v3h-3zM378 141h3v4h-3zM241 141h3v4h-3zM241 145h6v4h-6zM372 156h3v8h-3zM378 167h3v4h-3zM381 171h6v4h-6zM241 175h3v7h-3zM384 175h6v7h-6zM387 182h6v15h-6zM238 201h3v3h-3zM218 204h3v4h-3zM390 197h3v11h-3zM200 223h3v4h-3zM387 208h6v30h-6zM475 238h14v3h-14zM489 241h3v4h-3zM469 241h6v4h-6zM384 238h6v7h-6zM463 245h6v4h-6zM489 245h6v4h-6zM381 245h9v8h-9zM457 249h6v4h-6zM454 253h6v3h-6zM492 249h3v7h-3zM451 256h3v4h-3zM489 256h6v4h-6zM489 260h3v4h-3zM378 253h9v11h-9zM448 260h6v4h-6zM486 264h6v3h-6zM445 264h6v3h-6zM440 267h5v4h-5zM483 267h6v4h-6zM480 271h9v4h-9zM437 271h5v4h-5zM478 275h8v3h-8zM434 275h3v3h-3zM375 264h9v14h-9zM472 278h11v4h-11zM372 278h12v4h-12zM466 282h14v4h-14zM431 278h3v12h-3zM460 286h15v4h-15zM372 282h9v11h-9zM457 290h12v3h-12zM431 290h6v3h-6zM451 293h12v4h-12zM434 293h8v4h-8zM369 293h12v4h-12zM369 297h9v4h-9zM437 297h20v4h-20zM367 301h11v15h-11zM364 316h14v3h-14zM364 319h11v8h-11zM165 330h3v4h-3zM361 327h14v7h-14zM162 334h3v4h-3zM358 334h14v11h-14zM355 345h17v11h-17zM355 356h20v4h-20zM355 360h23v4h-23zM358 364h23v3h-23zM159 338h3v33h-3zM358 367h26v8h-26zM156 371h3v4h-3zM150 375h6v4h-6zM150 379h3v7h-3zM358 375h29v15h-29zM148 386h2v4h-2zM142 390h3v3h-3zM355 390h32v7h-32zM145 401h3v3h-3zM355 397h29v11h-29zM352 408h29v8h-29zM349 416h32v14h-32zM349 430h35v4h-35zM352 434h32v4h-32zM355 438h26v4h-26zM358 442h17v3h-17zM358 445h14v4h-14zM358 449h11v4h-11zM355 453h9v3h-9zM352 456h9v4h-9zM349 460h9v4h-9zM343 464h9v3h-9zM340 467h9v4h-9zM337 471h6v4h-6zM334 475h6v4h-6zM329 479h5v3h-5zM323 482h6v4h-6zM317 486h6v4h-6zM314 490h6v3h-6zM311 493h6v4h-6zM308 497h9v4h-9zM302 501h12v4h-12zM264 505h6v3h-6zM288 505h20v3h-20zM259 508h2v4h-2z"/><path fill="#28003b" d="M311 78h9v4h-9zM308 82h6v4h-6zM320 82h6v4h-6zM326 86h3v3h-3zM302 86h3v3h-3zM296 89h3v4h-3zM329 89h5v4h-5zM294 93h2v4h-2zM334 93h3v4h-3zM291 97h3v4h-3zM340 97h6v4h-6zM349 101h6v3h-6zM358 104h3v4h-3zM361 108h6v4h-6zM279 112h3v3h-3zM369 112h15v3h-15zM276 115h3v4h-3zM381 115h9v4h-9zM273 119h3v4h-3zM384 119h9v4h-9zM387 123h6v4h-6zM387 127h3v3h-3zM253 130h3v4h-3zM384 130h3v4h-3zM375 145h3v4h-3zM372 152h3v4h-3zM372 164h3v3h-3zM375 167h3v4h-3zM375 171h6v4h-6zM378 175h6v3h-6zM381 178h3v4h-3zM381 182h6v11h-6zM384 193h3v4h-3zM384 197h6v11h-6zM384 208h3v19h-3zM197 230h3v4h-3zM381 227h6v11h-6zM378 238h6v3h-6zM475 241h14v4h-14zM375 241h9v4h-9zM469 245h11v4h-11zM483 245h6v4h-6zM463 249h6v4h-6zM375 245h6v8h-6zM460 253h3v3h-3zM486 249h6v7h-6zM454 256h6v4h-6zM372 253h6v11h-6zM454 260h3v4h-3zM483 256h6v8h-6zM480 264h6v3h-6zM451 264h3v3h-3zM369 264h6v7h-6zM445 267h6v4h-6zM478 267h5v4h-5zM475 271h5v4h-5zM442 271h6v4h-6zM367 271h8v7h-8zM469 275h9v3h-9zM437 275h5v3h-5zM434 278h6v4h-6zM463 278h9v4h-9zM457 282h9v4h-9zM367 278h5v8h-5zM454 286h6v4h-6zM434 282h3v8h-3zM448 290h9v3h-9zM364 286h8v7h-8zM437 290h5v3h-5zM442 293h9v4h-9zM361 293h8v8h-8zM358 301h9v15h-9zM355 316h9v11h-9zM165 327h9v3h-9zM355 327h6v3h-6zM352 330h9v4h-9zM352 334h6v7h-6zM349 341h9v4h-9zM349 345h6v19h-6zM349 364h9v15h-9zM346 379h12v7h-12zM343 386h15v4h-15zM145 390h3v3h-3zM343 390h12v3h-12zM340 393h15v8h-15zM139 393h3v8h-3zM337 401h18v3h-18zM334 404h21v4h-21zM332 408h20v4h-20zM329 412h23v4h-23zM329 416h20v3h-20zM326 419h23v11h-23zM329 430h20v4h-20zM329 434h23v4h-23zM329 438h26v4h-26zM329 442h29v11h-29zM329 453h26v3h-26zM329 456h23v4h-23zM329 460h20v4h-20zM329 464h14v3h-14zM326 467h14v4h-14zM323 471h14v4h-14zM323 475h11v4h-11zM317 479h12v3h-12zM314 482h9v4h-9zM311 486h6v4h-6zM305 490h9v3h-9zM299 493h12v4h-12zM294 497h14v4h-14zM273 501h29v4h-29zM253 505h3v3h-3zM256 508h3v4h-3z"/><path fill="#19004a" d="M314 82h6v4h-6zM305 86h9v3h-9zM320 86h6v3h-6zM299 89h6v4h-6zM326 89h3v4h-3zM332 93h2v4h-2zM296 93h3v4h-3zM294 97h2v4h-2zM334 97h6v4h-6zM343 101h6v3h-6zM291 101h3v3h-3zM352 104h6v4h-6zM288 104h3v4h-3zM285 108h3v4h-3zM355 108h6v4h-6zM361 112h8v3h-8zM282 112h3v3h-3zM369 115h12v4h-12zM375 119h9v4h-9zM267 123h3v4h-3zM378 123h9v4h-9zM381 127h6v3h-6zM261 127h3v3h-3zM381 130h3v8h-3zM253 134h3v4h-3zM378 138h3v3h-3zM375 141h3v4h-3zM372 149h3v3h-3zM247 145h3v11h-3zM369 160h3v7h-3zM244 164h3v3h-3zM372 167h3v8h-3zM375 175h3v3h-3zM375 178h6v8h-6zM378 186h3v7h-3zM215 208h3v4h-3zM209 212h3v3h-3zM378 193h6v34h-6zM378 227h3v3h-3zM375 230h6v8h-6zM194 238h3v3h-3zM372 238h6v3h-6zM372 241h3v8h-3zM480 245h3v4h-3zM369 249h6v4h-6zM469 249h17v4h-17zM478 253h8v3h-8zM463 253h6v3h-6zM480 256h3v4h-3zM460 256h3v4h-3zM478 260h5v4h-5zM457 260h3v4h-3zM367 253h5v11h-5zM475 264h5v3h-5zM454 264h6v3h-6zM364 264h5v7h-5zM472 267h6v4h-6zM451 267h6v4h-6zM466 271h9v4h-9zM364 271h3v4h-3zM448 271h6v4h-6zM460 275h9v3h-9zM442 275h9v3h-9zM454 278h9v4h-9zM440 278h5v4h-5zM361 275h6v11h-6zM437 282h5v4h-5zM451 282h6v4h-6zM437 286h17v4h-17zM442 290h6v3h-6zM358 286h6v7h-6zM355 293h6v8h-6zM352 301h6v15h-6zM349 316h6v14h-6zM174 327h6v3h-6zM165 334h3v4h-3zM346 330h6v11h-6zM346 341h3v4h-3zM343 345h6v26h-6zM159 371h3v4h-3zM340 371h9v8h-9zM156 375h3v4h-3zM340 379h6v3h-6zM337 382h9v4h-9zM337 386h6v4h-6zM332 390h11v3h-11zM329 393h11v4h-11zM323 397h17v4h-17zM317 401h20v3h-20zM148 404h2v4h-2zM314 404h20v4h-20zM314 408h18v4h-18zM311 412h18v7h-18zM311 419h15v4h-15zM308 423h18v7h-18zM308 430h21v12h-21zM311 442h18v3h-18zM314 445h15v19h-15zM311 464h18v3h-18zM311 467h15v4h-15zM308 471h15v4h-15zM305 475h18v4h-18zM299 479h18v3h-18zM296 482h18v4h-18zM291 486h20v4h-20zM288 490h17v3h-17zM282 493h17v4h-17zM276 497h18v4h-18zM267 501h6v4h-6zM261 505h3v3h-3zM244 505h9v3h-9zM256 505h3v3h-3z"/><path fill="#0c0454" d="M314 86h6v3h-6zM320 89h6v4h-6zM305 89h9v4h-9zM326 93h6v4h-6zM299 93h6v4h-6zM329 97h5v4h-5zM296 97h6v4h-6zM337 101h6v3h-6zM294 101h2v3h-2zM291 104h3v4h-3zM346 104h6v4h-6zM288 108h3v4h-3zM349 108h6v4h-6zM355 112h6v3h-6zM361 115h8v4h-8zM279 115h3v4h-3zM276 119h3v4h-3zM367 119h8v4h-8zM369 123h9v4h-9zM270 123h3v4h-3zM372 127h9v3h-9zM256 130h3v4h-3zM375 130h6v8h-6zM250 138h3v3h-3zM375 138h3v3h-3zM244 141h3v4h-3zM372 141h3v8h-3zM369 152h3v8h-3zM247 156h3v8h-3zM367 160h2v7h-2zM369 167h3v8h-3zM372 175h3v11h-3zM372 186h6v4h-6zM241 182h3v8h-3zM203 219h3v4h-3zM375 190h3v33h-3zM372 223h6v7h-6zM200 227h3v3h-3zM372 230h3v4h-3zM197 234h3v4h-3zM369 234h6v4h-6zM369 238h3v3h-3zM367 241h5v8h-5zM364 249h5v4h-5zM469 253h9v3h-9zM463 256h17v4h-17zM364 253h3v7h-3zM460 260h18v4h-18zM361 260h6v4h-6zM460 264h15v3h-15zM361 264h3v3h-3zM457 267h15v4h-15zM358 267h6v8h-6zM454 271h12v4h-12zM358 275h3v3h-3zM451 275h9v3h-9zM445 278h9v4h-9zM442 282h9v4h-9zM355 278h6v8h-6zM355 286h3v4h-3zM352 290h6v3h-6zM352 293h3v4h-3zM349 297h6v4h-6zM349 301h3v3h-3zM346 304h6v12h-6zM346 316h3v3h-3zM180 323h8v4h-8zM343 319h6v11h-6zM343 330h3v4h-3zM162 338h3v3h-3zM340 334h6v11h-6zM337 345h6v11h-6zM334 356h9v15h-9zM334 371h6v8h-6zM332 379h8v3h-8zM326 382h11v4h-11zM323 386h14v4h-14zM317 390h15v3h-15zM148 390h2v3h-2zM314 393h15v4h-15zM311 397h12v4h-12zM308 401h9v3h-9zM305 404h9v8h-9zM302 412h9v4h-9zM299 416h12v7h-12zM296 423h12v4h-12zM294 427h14v15h-14zM296 442h15v3h-15zM296 445h18v4h-18zM299 449h15v7h-15zM296 456h18v8h-18zM294 464h17v3h-17zM291 467h20v4h-20zM288 471h20v4h-20zM285 475h20v4h-20zM282 479h17v3h-17zM279 482h17v4h-17zM279 486h12v4h-12zM276 490h12v3h-12zM273 493h9v4h-9zM270 497h6v4h-6zM229 501h3v4h-3zM264 501h3v4h-3zM238 505h6v3h-6zM259 505h2v3h-2z"/><path fill="#010a66" d="M314 89h6v4h-6zM317 93h9v4h-9zM305 93h9v4h-9zM323 97h6v4h-6zM302 97h6v4h-6zM329 101h8v3h-8zM296 101h6v3h-6zM337 104h9v4h-9zM294 104h2v4h-2zM291 108h3v4h-3zM343 108h6v4h-6zM285 112h3v3h-3zM349 112h6v3h-6zM355 115h6v4h-6zM282 115h3v4h-3zM279 119h3v4h-3zM358 119h9v4h-9zM273 123h3v4h-3zM361 123h8v4h-8zM264 127h3v3h-3zM364 127h8v3h-8zM259 130h2v4h-2zM367 130h8v8h-8zM369 138h6v3h-6zM247 141h3v4h-3zM369 141h3v11h-3zM367 152h2v8h-2zM367 167h2v8h-2zM244 167h3v8h-3zM367 175h5v7h-5zM369 182h3v8h-3zM241 190h3v3h-3zM369 190h6v11h-6zM221 204h11v4h-11zM212 212h3v3h-3zM206 215h3v4h-3zM372 201h3v18h-3zM369 219h6v4h-6zM369 223h3v7h-3zM367 230h5v4h-5zM367 234h2v4h-2zM364 238h5v3h-5zM364 241h3v8h-3zM361 249h3v7h-3zM358 256h6v4h-6zM358 260h3v7h-3zM355 267h3v8h-3zM352 275h6v3h-6zM352 278h3v8h-3zM349 286h6v4h-6zM349 290h3v3h-3zM346 293h6v4h-6zM346 297h3v4h-3zM343 301h6v3h-6zM343 304h3v8h-3zM188 308h3v4h-3zM340 312h6v7h-6zM188 316h3v7h-3zM340 319h3v8h-3zM180 327h3v3h-3zM337 327h6v7h-6zM334 334h6v7h-6zM332 341h8v4h-8zM332 345h5v4h-5zM329 349h8v7h-8zM326 356h8v15h-8zM323 371h11v8h-11zM320 379h12v3h-12zM314 382h12v4h-12zM150 386h3v4h-3zM311 386h12v4h-12zM308 390h9v3h-9zM305 393h9v4h-9zM142 397h3v4h-3zM302 397h9v4h-9zM299 401h9v3h-9zM296 404h9v4h-9zM294 408h11v4h-11zM294 412h8v4h-8zM291 416h8v3h-8zM288 419h11v4h-11zM288 423h8v4h-8zM285 427h9v15h-9zM285 442h11v7h-11zM288 449h11v4h-11zM285 453h14v3h-14zM285 456h11v4h-11zM282 460h14v4h-14zM282 464h12v3h-12zM279 467h12v4h-12zM276 471h12v4h-12zM273 475h12v4h-12zM273 479h9v3h-9zM270 482h9v8h-9zM270 490h6v3h-6zM267 493h6v4h-6zM264 497h6v4h-6zM261 501h3v4h-3zM232 501h3v4h-3zM235 505h3v3h-3z"/><path fill="#001470" d="M314 93h3v4h-3zM308 97h15v4h-15zM302 101h6v3h-6zM320 101h9v3h-9zM329 104h8v4h-8zM296 104h3v4h-3zM294 108h2v4h-2zM334 108h9v4h-9zM288 112h3v3h-3zM340 112h9v3h-9zM346 115h9v4h-9zM285 115h3v4h-3zM282 119h3v4h-3zM349 119h9v4h-9zM276 123h3v4h-3zM352 123h9v4h-9zM355 127h9v3h-9zM267 127h6v3h-6zM261 130h3v4h-3zM358 130h9v4h-9zM256 134h3v4h-3zM361 134h6v4h-6zM253 138h3v3h-3zM364 138h5v11h-5zM250 145h3v7h-3zM367 149h2v3h-2zM364 152h3v30h-3zM364 182h5v4h-5zM367 186h2v15h-2zM241 193h3v11h-3zM232 204h3v4h-3zM218 208h3v4h-3zM367 201h5v18h-5zM367 219h2v8h-2zM203 223h3v4h-3zM364 227h5v3h-5zM364 230h3v8h-3zM361 238h3v7h-3zM194 241h3v8h-3zM358 245h6v4h-6zM358 249h3v7h-3zM355 256h3v8h-3zM352 264h6v3h-6zM352 267h3v8h-3zM349 275h3v11h-3zM191 286h3v4h-3zM346 286h3v4h-3zM343 290h6v3h-6zM343 293h3v4h-3zM340 297h6v4h-6zM340 301h3v3h-3zM337 304h6v8h-6zM337 312h3v4h-3zM188 312h3v4h-3zM334 316h6v7h-6zM332 323h8v4h-8zM188 323h3v4h-3zM332 327h5v3h-5zM329 330h8v4h-8zM329 334h5v4h-5zM326 338h8v3h-8zM326 341h6v4h-6zM323 345h9v4h-9zM323 349h6v4h-6zM320 353h9v3h-9zM320 356h6v4h-6zM162 341h3v23h-3zM317 360h9v11h-9zM314 371h9v8h-9zM311 379h9v3h-9zM308 382h6v4h-6zM305 386h6v4h-6zM299 390h9v3h-9zM296 393h9v4h-9zM142 393h3v4h-3zM294 397h8v4h-8zM145 397h3v4h-3zM148 401h2v3h-2zM291 401h8v3h-8zM288 404h8v4h-8zM288 408h6v4h-6zM150 408h3v4h-3zM285 412h9v4h-9zM282 416h9v3h-9zM279 419h9v8h-9zM276 427h9v22h-9zM276 449h12v4h-12zM276 453h9v7h-9zM273 460h9v7h-9zM270 467h9v4h-9zM267 471h9v4h-9zM267 475h6v4h-6zM264 479h9v3h-9zM264 482h6v8h-6zM261 490h9v3h-9zM261 493h6v4h-6zM259 497h5v4h-5zM247 501h14v4h-14z"/><path fill="#002579" d="M308 101h12v3h-12zM317 104h12v4h-12zM299 104h12v4h-12zM323 108h11v4h-11zM296 108h6v4h-6zM329 112h11v3h-11zM291 112h3v3h-3zM337 115h9v4h-9zM340 119h9v4h-9zM343 123h9v4h-9zM279 123h3v4h-3zM346 127h9v3h-9zM273 127h3v3h-3zM264 130h3v4h-3zM349 130h9v4h-9zM352 134h9v4h-9zM259 134h2v4h-2zM355 138h9v3h-9zM250 141h3v4h-3zM358 141h6v4h-6zM361 145h3v4h-3zM361 149h6v3h-6zM250 152h3v8h-3zM361 152h3v12h-3zM247 164h3v3h-3zM358 164h6v11h-6zM244 175h3v7h-3zM361 175h3v11h-3zM361 186h6v4h-6zM235 204h6v4h-6zM364 190h3v37h-3zM200 230h3v4h-3zM361 227h3v11h-3zM197 238h3v3h-3zM358 238h3v7h-3zM355 245h3v8h-3zM194 249h3v7h-3zM352 253h6v3h-6zM352 256h3v8h-3zM349 264h3v11h-3zM346 275h3v7h-3zM343 282h6v4h-6zM343 286h3v4h-3zM340 290h3v3h-3zM337 293h6v4h-6zM337 297h3v4h-3zM334 301h6v3h-6zM332 304h5v8h-5zM329 312h8v4h-8zM329 316h5v3h-5zM326 319h8v4h-8zM326 323h6v4h-6zM323 327h9v3h-9zM323 330h6v4h-6zM320 334h9v4h-9zM168 330h3v8h-3zM165 338h3v3h-3zM320 338h6v3h-6zM317 341h9v4h-9zM314 345h9v8h-9zM314 353h6v3h-6zM311 356h9v4h-9zM311 360h6v7h-6zM162 364h3v7h-3zM308 367h9v4h-9zM308 371h6v4h-6zM305 375h9v4h-9zM302 379h9v3h-9zM153 379h3v7h-3zM299 382h9v4h-9zM296 386h9v4h-9zM294 390h5v3h-5zM150 390h3v3h-3zM288 393h8v4h-8zM288 397h6v4h-6zM285 401h6v3h-6zM282 404h6v4h-6zM279 408h9v4h-9zM279 412h6v4h-6zM276 416h6v3h-6zM273 419h6v4h-6zM270 423h9v4h-9zM270 427h6v29h-6zM267 456h9v4h-9zM267 460h6v4h-6zM264 464h9v3h-9zM261 467h9v4h-9zM261 471h6v4h-6zM259 475h8v4h-8zM256 479h8v11h-8zM256 490h5v3h-5zM253 493h8v4h-8zM250 497h9v4h-9zM226 497h3v4h-3zM241 501h6v4h-6zM235 501h3v4h-3z"/><path fill="#003888" d="M311 104h6v4h-6zM302 108h21v4h-21zM294 112h5v3h-5zM320 112h9v3h-9zM326 115h11v4h-11zM288 115h6v4h-6zM332 119h8v4h-8zM285 119h3v4h-3zM282 123h3v4h-3zM334 123h9v4h-9zM276 127h3v3h-3zM340 127h6v3h-6zM267 130h6v4h-6zM343 130h6v4h-6zM346 134h6v4h-6zM261 134h3v4h-3zM256 138h3v3h-3zM349 138h6v3h-6zM352 141h6v4h-6zM253 141h3v8h-3zM352 145h9v4h-9zM355 149h6v3h-6zM358 152h3v8h-3zM355 160h6v4h-6zM250 160h3v4h-3zM247 167h3v4h-3zM355 164h3v11h-3zM355 175h6v7h-6zM358 182h3v8h-3zM358 190h6v7h-6zM221 208h2v4h-2zM215 212h3v3h-3zM209 215h3v4h-3zM361 197h3v26h-3zM206 219h3v4h-3zM358 223h6v4h-6zM203 227h3v3h-3zM358 227h3v7h-3zM355 234h6v4h-6zM355 238h3v7h-3zM352 245h3v8h-3zM349 253h3v11h-3zM194 256h3v15h-3zM346 264h3v11h-3zM343 275h3v7h-3zM340 282h3v4h-3zM337 286h6v4h-6zM191 290h3v3h-3zM334 290h6v3h-6zM332 293h5v4h-5zM329 297h8v4h-8zM326 301h8v3h-8zM326 304h6v4h-6zM323 308h9v4h-9zM323 312h6v4h-6zM320 316h9v3h-9zM320 319h6v4h-6zM317 323h9v4h-9zM317 327h6v3h-6zM314 330h9v4h-9zM314 334h6v4h-6zM311 338h9v3h-9zM311 341h6v4h-6zM308 345h6v8h-6zM305 353h9v3h-9zM305 356h6v8h-6zM302 364h9v3h-9zM302 367h6v4h-6zM162 371h3v4h-3zM299 371h9v4h-9zM299 375h6v4h-6zM159 375h3v4h-3zM294 379h8v3h-8zM291 382h8v4h-8zM288 386h8v4h-8zM285 390h9v3h-9zM282 393h6v8h-6zM279 401h6v3h-6zM150 404h3v4h-3zM276 404h6v4h-6zM273 408h6v4h-6zM270 412h9v4h-9zM267 416h9v3h-9zM267 419h6v4h-6zM264 423h6v4h-6zM261 427h9v18h-9zM264 445h6v8h-6zM261 453h9v3h-9zM261 456h6v8h-6zM256 464h8v3h-8zM256 467h5v4h-5zM253 471h8v4h-8zM250 475h9v4h-9zM250 479h6v11h-6zM247 490h9v3h-9zM247 493h6v4h-6zM209 497h6v4h-6zM244 497h6v4h-6zM229 497h6v4h-6zM218 497h8v4h-8zM238 501h3v4h-3z"/><path fill="#00478f" d="M299 112h21v3h-21zM317 115h9v4h-9zM294 115h5v4h-5zM320 119h12v4h-12zM288 119h6v4h-6zM326 123h8v4h-8zM285 123h3v4h-3zM332 127h8v3h-8zM279 127h6v3h-6zM273 130h6v4h-6zM334 130h9v4h-9zM264 134h9v4h-9zM337 134h9v4h-9zM340 138h9v3h-9zM259 138h2v3h-2zM256 141h3v4h-3zM343 141h9v4h-9zM346 145h6v4h-6zM349 149h6v3h-6zM253 149h3v7h-3zM349 152h9v4h-9zM352 156h6v4h-6zM247 171h3v4h-3zM349 160h6v18h-6zM352 178h3v4h-3zM352 182h6v8h-6zM244 182h3v11h-3zM355 190h3v7h-3zM241 204h3v4h-3zM223 208h9v4h-9zM355 197h6v26h-6zM355 223h3v11h-3zM200 234h3v4h-3zM352 234h3v7h-3zM349 241h6v4h-6zM349 245h3v8h-3zM346 253h3v11h-3zM343 264h3v7h-3zM340 271h6v4h-6zM340 275h3v3h-3zM194 271h3v11h-3zM337 278h6v4h-6zM334 282h6v4h-6zM334 286h3v4h-3zM329 290h5v3h-5zM326 293h6v4h-6zM323 297h6v4h-6zM320 301h6v3h-6zM191 301h3v7h-3zM317 304h9v4h-9zM317 308h6v4h-6zM314 312h9v4h-9zM311 316h9v7h-9zM308 323h9v7h-9zM171 330h9v4h-9zM305 330h9v8h-9zM305 338h6v3h-6zM302 341h9v4h-9zM302 345h6v4h-6zM299 349h9v4h-9zM299 353h6v3h-6zM296 356h9v8h-9zM294 364h8v7h-8zM291 371h8v8h-8zM285 379h9v3h-9zM156 379h3v3h-3zM282 382h9v4h-9zM279 386h9v4h-9zM153 386h3v4h-3zM279 390h6v3h-6zM276 393h6v4h-6zM273 397h9v4h-9zM270 401h9v3h-9zM150 401h3v3h-3zM270 404h6v4h-6zM267 408h6v4h-6zM264 412h6v4h-6zM261 416h6v3h-6zM259 419h8v4h-8zM256 423h8v4h-8zM256 427h5v18h-5zM256 445h8v8h-8zM256 453h5v3h-5zM253 456h8v8h-8zM250 464h6v3h-6zM247 467h9v4h-9zM247 471h6v4h-6zM244 475h6v15h-6zM197 490h3v3h-3zM203 493h6v4h-6zM241 490h6v7h-6zM235 497h9v4h-9zM215 497h3v4h-3z"/><path fill="#005796" d="M299 115h18v4h-18zM294 119h26v4h-26zM288 123h6v4h-6zM314 123h12v4h-12zM285 127h3v3h-3zM320 127h12v3h-12zM279 130h3v4h-3zM326 130h8v4h-8zM273 134h6v4h-6zM329 134h8v4h-8zM261 138h9v3h-9zM334 138h6v3h-6zM337 141h6v4h-6zM259 141h2v4h-2zM340 145h6v4h-6zM256 145h3v7h-3zM340 149h9v3h-9zM343 152h6v4h-6zM343 156h9v4h-9zM253 156h3v8h-3zM250 164h3v3h-3zM247 175h3v3h-3zM343 160h6v18h-6zM346 178h6v8h-6zM349 186h3v4h-3zM349 190h6v7h-6zM244 193h3v11h-3zM232 208h9v4h-9zM218 212h3v3h-3zM212 215h3v4h-3zM206 223h3v4h-3zM352 197h3v33h-3zM203 230h3v4h-3zM349 230h6v4h-6zM349 234h3v7h-3zM346 241h3v12h-3zM343 253h3v7h-3zM340 260h6v4h-6zM340 264h3v7h-3zM337 271h3v4h-3zM334 275h6v3h-6zM334 278h3v4h-3zM329 282h5v4h-5zM326 286h8v4h-8zM320 290h9v3h-9zM317 293h9v4h-9zM191 293h3v8h-3zM314 297h9v4h-9zM311 301h9v3h-9zM308 304h9v8h-9zM191 308h3v4h-3zM305 312h9v4h-9zM305 316h6v3h-6zM302 319h9v4h-9zM191 319h3v4h-3zM302 323h6v4h-6zM299 327h9v3h-9zM183 327h3v3h-3zM180 330h3v4h-3zM299 330h6v4h-6zM296 334h9v4h-9zM294 338h11v3h-11zM168 338h3v3h-3zM294 341h8v8h-8zM291 349h8v7h-8zM165 341h3v23h-3zM288 356h8v8h-8zM285 364h9v7h-9zM282 371h9v4h-9zM279 375h12v4h-12zM276 379h9v3h-9zM273 382h9v4h-9zM273 386h6v4h-6zM270 390h9v3h-9zM267 393h9v4h-9zM145 393h3v4h-3zM267 397h6v4h-6zM148 397h2v4h-2zM264 401h6v3h-6zM261 404h9v4h-9zM259 408h8v4h-8zM256 412h8v4h-8zM253 416h8v3h-8zM153 412h3v7h-3zM253 419h6v4h-6zM250 423h6v7h-6zM247 430h9v15h-9zM250 445h6v8h-6zM247 453h9v3h-9zM247 456h6v4h-6zM244 460h9v4h-9zM244 464h6v3h-6zM241 467h6v8h-6zM238 475h6v11h-6zM186 482h2v4h-2zM235 486h9v4h-9zM235 490h6v3h-6zM200 490h3v3h-3zM221 493h20v4h-20z"/><path fill="#00689f" d="M294 123h20v4h-20zM288 127h11v3h-11zM302 127h18v3h-18zM282 130h9v4h-9zM311 130h15v4h-15zM317 134h12v4h-12zM279 134h6v4h-6zM270 138h9v3h-9zM323 138h11v3h-11zM326 141h11v4h-11zM261 141h6v4h-6zM259 145h5v4h-5zM329 145h11v7h-11zM259 149h2v3h-2zM256 152h3v8h-3zM332 152h11v12h-11zM253 164h3v3h-3zM334 164h9v11h-9zM250 167h3v8h-3zM337 175h6v3h-6zM247 178h3v8h-3zM340 178h6v8h-6zM340 186h9v4h-9zM343 190h6v7h-6zM221 212h2v3h-2zM215 215h3v4h-3zM209 219h3v4h-3zM346 197h6v33h-6zM206 227h3v3h-3zM346 230h3v8h-3zM343 238h6v3h-6zM200 238h3v3h-3zM197 241h3v8h-3zM343 241h3v8h-3zM340 249h6v4h-6zM340 253h3v3h-3zM337 256h6v4h-6zM337 260h3v4h-3zM334 264h6v7h-6zM332 271h5v4h-5zM329 275h5v3h-5zM326 278h8v4h-8zM194 282h3v4h-3zM320 282h9v4h-9zM317 286h9v4h-9zM311 290h9v3h-9zM308 293h9v4h-9zM305 297h9v4h-9zM302 301h9v3h-9zM302 304h6v4h-6zM299 308h9v4h-9zM296 312h9v4h-9zM191 312h3v7h-3zM294 316h11v3h-11zM294 319h8v4h-8zM191 323h3v4h-3zM291 323h11v4h-11zM186 327h5v3h-5zM291 327h8v3h-8zM288 330h11v4h-11zM288 334h8v4h-8zM171 334h3v4h-3zM285 338h9v7h-9zM282 345h12v4h-12zM282 349h9v4h-9zM279 353h12v3h-12zM279 356h9v4h-9zM276 360h12v4h-12zM276 364h9v3h-9zM273 367h12v4h-12zM273 371h9v4h-9zM165 364h3v11h-3zM270 375h9v4h-9zM162 375h3v4h-3zM159 379h3v3h-3zM267 379h9v3h-9zM156 382h3v4h-3zM267 382h6v4h-6zM264 386h9v4h-9zM153 390h3v3h-3zM261 390h9v3h-9zM261 393h6v4h-6zM148 393h2v4h-2zM259 397h8v4h-8zM256 401h8v3h-8zM253 404h8v4h-8zM250 408h9v4h-9zM250 412h6v4h-6zM247 416h6v3h-6zM244 419h9v4h-9zM156 423h3v4h-3zM244 423h6v4h-6zM241 427h9v3h-9zM159 430h3v4h-3zM241 430h6v15h-6zM241 445h9v8h-9zM241 453h6v7h-6zM238 460h6v7h-6zM235 467h6v4h-6zM232 471h9v4h-9zM232 475h6v7h-6zM180 479h3v3h-3zM229 482h9v4h-9zM183 482h3v4h-3zM229 486h6v4h-6zM191 486h6v4h-6zM226 490h9v3h-9zM203 490h3v3h-3zM209 493h12v4h-12z"/><path fill="#007aa9" d="M299 127h3v3h-3zM291 130h20v4h-20zM285 134h32v4h-32zM279 138h44v3h-44zM305 141h21v4h-21zM267 141h15v4h-15zM264 145h9v4h-9zM308 145h21v4h-21zM314 149h15v3h-15zM261 149h6v3h-6zM259 152h5v4h-5zM314 152h18v4h-18zM259 156h2v4h-2zM317 156h15v8h-15zM256 160h5v4h-5zM256 164h3v3h-3zM320 164h14v7h-14zM253 167h3v4h-3zM323 171h11v4h-11zM250 175h3v3h-3zM326 175h11v3h-11zM326 178h14v4h-14zM329 182h11v4h-11zM334 186h6v4h-6zM247 186h3v7h-3zM334 190h9v3h-9zM337 193h6v4h-6zM337 197h9v7h-9zM244 204h3v4h-3zM241 208h3v4h-3zM223 212h9v3h-9zM209 223h3v4h-3zM203 234h3v4h-3zM340 204h6v34h-6zM340 238h3v3h-3zM337 241h6v8h-6zM337 249h3v4h-3zM334 253h6v3h-6zM197 249h3v7h-3zM332 256h5v4h-5zM329 260h8v4h-8zM329 264h5v3h-5zM326 267h8v4h-8zM323 271h9v4h-9zM320 275h9v3h-9zM317 278h9v4h-9zM311 282h9v4h-9zM194 286h3v4h-3zM305 286h12v4h-12zM302 290h9v3h-9zM299 293h9v4h-9zM296 297h9v4h-9zM294 301h8v3h-8zM291 304h11v4h-11zM288 308h11v4h-11zM288 312h8v4h-8zM285 316h9v3h-9zM282 319h12v4h-12zM279 323h12v7h-12zM183 330h3v4h-3zM276 330h12v8h-12zM174 334h6v4h-6zM276 338h9v3h-9zM171 338h3v3h-3zM273 341h12v4h-12zM273 345h9v4h-9zM270 349h12v4h-12zM270 353h9v3h-9zM168 341h3v15h-3zM267 356h12v4h-12zM267 360h9v7h-9zM264 367h9v8h-9zM261 375h9v4h-9zM259 379h8v3h-8zM256 382h11v4h-11zM256 386h8v4h-8zM156 386h3v4h-3zM253 390h8v3h-8zM250 393h11v4h-11zM250 397h9v4h-9zM150 393h3v8h-3zM247 401h9v3h-9zM247 404h6v4h-6zM244 408h6v4h-6zM153 408h3v4h-3zM241 412h9v4h-9zM238 416h9v3h-9zM238 419h6v4h-6zM235 423h9v4h-9zM159 427h3v3h-3zM235 427h6v29h-6zM232 456h9v4h-9zM232 460h6v4h-6zM229 464h9v3h-9zM229 467h6v4h-6zM226 471h6v8h-6zM223 479h9v3h-9zM223 482h6v4h-6zM188 482h3v4h-3zM221 486h8v4h-8zM197 486h3v4h-3zM218 490h8v3h-8z"/><path fill="#008ab4" d="M282 141h23v4h-23zM273 145h35v4h-35zM267 149h47v3h-47zM264 152h50v4h-50zM261 156h56v4h-56zM261 160h9v4h-9zM282 160h35v4h-35zM259 164h5v3h-5zM288 164h32v3h-32zM291 167h29v4h-29zM256 167h5v4h-5zM296 171h27v4h-27zM253 171h3v7h-3zM302 175h24v3h-24zM305 178h21v4h-21zM311 182h18v4h-18zM250 178h3v12h-3zM314 186h20v4h-20zM320 190h14v3h-14zM323 193h14v8h-14zM326 201h11v3h-11zM326 204h14v4h-14zM247 193h3v15h-3zM244 208h3v4h-3zM232 212h9v3h-9zM218 215h5v4h-5zM329 208h11v11h-11zM212 219h3v4h-3zM209 227h3v3h-3zM206 230h3v4h-3zM332 219h8v22h-8zM200 241h3v4h-3zM329 241h8v8h-8zM326 249h11v4h-11zM323 253h11v3h-11zM320 256h12v4h-12zM320 260h9v7h-9zM317 267h9v4h-9zM314 271h9v4h-9zM311 275h9v3h-9zM305 278h12v4h-12zM197 256h3v26h-3zM299 282h12v4h-12zM296 286h9v4h-9zM194 290h3v3h-3zM291 290h11v3h-11zM288 293h11v4h-11zM285 297h11v4h-11zM282 301h12v3h-12zM194 304h3v4h-3zM279 304h12v4h-12zM276 308h12v8h-12zM273 316h12v3h-12zM270 319h12v4h-12zM270 323h9v4h-9zM191 327h3v3h-3zM267 327h12v3h-12zM267 330h9v4h-9zM180 334h3v4h-3zM264 334h12v7h-12zM264 341h9v4h-9zM261 345h12v4h-12zM261 349h9v7h-9zM259 356h8v4h-8zM168 356h3v11h-3zM256 360h11v7h-11zM253 367h11v8h-11zM253 375h8v4h-8zM165 375h3v4h-3zM250 379h9v3h-9zM162 379h3v3h-3zM247 382h9v8h-9zM244 390h9v3h-9zM244 393h6v4h-6zM241 397h9v4h-9zM241 401h6v3h-6zM153 401h3v7h-3zM238 404h9v4h-9zM235 408h9v4h-9zM235 412h6v4h-6zM156 419h3v4h-3zM232 416h6v7h-6zM232 423h3v4h-3zM229 427h6v29h-6zM226 456h6v8h-6zM223 464h6v7h-6zM221 471h5v4h-5zM218 475h8v4h-8zM218 479h5v7h-5zM191 482h3v4h-3zM215 486h6v4h-6zM206 490h12v3h-12z"/><path fill="#009abe" d="M270 160h12v4h-12zM264 164h24v3h-24zM261 167h30v4h-30zM256 171h40v4h-40zM256 175h46v3h-46zM253 178h8v4h-8zM270 178h35v4h-35zM273 182h38v4h-38zM253 182h6v4h-6zM253 186h3v4h-3zM276 186h38v4h-38zM282 190h38v3h-38zM250 190h6v3h-6zM288 193h35v4h-35zM291 197h32v4h-32zM294 201h32v3h-32zM250 193h3v15h-3zM299 204h27v4h-27zM247 208h3v4h-3zM299 208h30v4h-30zM241 212h6v3h-6zM302 212h27v3h-27zM223 215h12v4h-12zM305 215h24v4h-24zM215 219h6v4h-6zM212 223h3v4h-3zM308 219h24v11h-24zM209 230h3v4h-3zM206 234h3v4h-3zM311 230h21v11h-21zM203 238h3v3h-3zM311 241h18v8h-18zM200 245h3v4h-3zM311 249h15v4h-15zM308 253h15v3h-15zM308 256h12v4h-12zM305 260h15v7h-15zM302 267h15v4h-15zM299 271h15v4h-15zM294 275h17v3h-17zM291 278h14v4h-14zM197 282h3v4h-3zM285 282h14v4h-14zM282 286h14v4h-14zM276 290h15v3h-15zM273 293h15v4h-15zM270 297h15v4h-15zM270 301h12v3h-12zM194 293h3v11h-3zM267 304h12v4h-12zM194 308h3v4h-3zM264 308h12v8h-12zM261 316h12v3h-12zM261 319h9v4h-9zM259 323h11v4h-11zM194 319h3v8h-3zM186 330h2v4h-2zM256 327h11v7h-11zM256 334h8v4h-8zM183 334h3v4h-3zM174 338h3v3h-3zM253 338h11v7h-11zM253 345h8v4h-8zM250 349h11v7h-11zM171 341h3v19h-3zM247 356h12v4h-12zM247 360h9v7h-9zM168 367h3v8h-3zM244 367h9v12h-9zM241 379h9v3h-9zM241 382h6v4h-6zM159 382h3v4h-3zM238 386h9v4h-9zM156 390h3v3h-3zM238 390h6v3h-6zM153 393h3v4h-3zM235 393h9v4h-9zM235 397h6v4h-6zM232 401h9v3h-9zM232 404h6v4h-6zM229 408h6v8h-6zM156 416h3v3h-3zM226 416h6v11h-6zM226 427h3v3h-3zM223 430h6v23h-6zM221 453h8v3h-8zM221 456h5v8h-5zM218 464h5v3h-5zM215 467h8v4h-8zM171 471h3v4h-3zM215 471h6v4h-6zM174 475h3v4h-3zM183 479h3v3h-3zM212 475h6v7h-6zM197 482h3v4h-3zM206 482h12v4h-12zM200 486h15v4h-15z"/><path fill="#00a9c9" d="M261 178h9v4h-9zM259 182h14v4h-14zM256 186h20v4h-20zM256 190h26v3h-26zM253 193h35v4h-35zM253 197h38v4h-38zM253 201h41v3h-41zM253 204h46v4h-46zM264 208h35v4h-35zM250 208h11v4h-11zM247 212h9v3h-9zM267 212h35v3h-35zM235 215h12v4h-12zM270 215h35v4h-35zM221 219h11v4h-11zM215 223h11v4h-11zM273 219h35v8h-35zM276 227h32v3h-32zM212 227h6v3h-6zM212 230h3v4h-3zM209 234h3v4h-3zM279 230h32v8h-32zM206 238h3v3h-3zM282 238h29v3h-29zM203 241h3v4h-3zM285 241h26v8h-26zM288 249h23v4h-23zM285 253h23v7h-23zM200 249h3v15h-3zM285 260h20v4h-20zM282 264h23v3h-23zM282 267h20v4h-20zM279 271h20v4h-20zM276 275h18v3h-18zM273 278h18v4h-18zM267 282h18v4h-18zM197 286h3v4h-3zM264 286h18v4h-18zM261 290h15v3h-15zM261 293h12v4h-12zM259 297h11v4h-11zM256 301h14v3h-14zM253 304h14v4h-14zM253 308h11v4h-11zM250 312h14v4h-14zM194 312h3v7h-3zM250 316h11v3h-11zM247 319h14v4h-14zM247 323h12v4h-12zM247 327h9v7h-9zM188 330h3v4h-3zM186 334h2v4h-2zM244 334h12v4h-12zM177 338h6v3h-6zM174 341h3v4h-3zM244 338h9v7h-9zM241 345h12v4h-12zM241 349h9v7h-9zM238 356h9v11h-9zM171 360h3v11h-3zM238 367h6v8h-6zM168 375h3v4h-3zM235 375h9v4h-9zM235 379h6v3h-6zM165 379h3v3h-3zM232 382h9v4h-9zM159 386h3v4h-3zM232 386h6v7h-6zM229 393h6v8h-6zM153 397h3v4h-3zM226 401h6v7h-6zM226 408h3v4h-3zM223 412h6v4h-6zM156 408h3v8h-3zM159 423h3v4h-3zM221 416h5v14h-5zM162 434h3v4h-3zM162 449h3v4h-3zM218 430h5v23h-5zM218 453h3v3h-3zM215 456h6v8h-6zM212 464h6v3h-6zM165 464h3v3h-3zM209 467h6v8h-6zM177 475h3v4h-3zM206 475h6v4h-6zM203 479h9v3h-9zM186 479h2v3h-2zM194 482h3v4h-3zM200 482h6v4h-6z"/><path fill="#00b8d3" d="M261 208h3v4h-3zM256 212h11v3h-11zM247 215h23v4h-23zM232 219h41v4h-41zM226 223h47v4h-47zM218 227h14v3h-14zM250 227h26v3h-26zM253 230h26v4h-26zM215 230h11v4h-11zM256 234h23v4h-23zM212 234h11v4h-11zM259 238h23v3h-23zM209 238h12v3h-12zM206 241h12v4h-12zM261 241h24v8h-24zM203 245h6v4h-6zM261 249h27v4h-27zM203 249h3v11h-3zM261 253h24v11h-24zM261 264h21v7h-21zM261 271h18v4h-18zM259 275h17v3h-17zM256 278h17v4h-17zM253 282h14v4h-14zM250 286h14v4h-14zM200 264h3v26h-3zM247 290h14v7h-14zM244 297h15v4h-15zM241 301h15v3h-15zM197 290h3v22h-3zM241 304h12v8h-12zM238 312h12v7h-12zM194 327h3v3h-3zM238 319h9v11h-9zM235 330h12v4h-12zM191 330h3v4h-3zM188 334h3v4h-3zM183 338h3v3h-3zM235 334h9v7h-9zM232 341h12v4h-12zM177 341h6v4h-6zM232 345h9v11h-9zM232 356h6v11h-6zM174 345h3v22h-3zM229 367h9v8h-9zM171 371h3v8h-3zM168 379h3v3h-3zM229 375h6v7h-6zM162 382h3v4h-3zM226 382h6v11h-6zM159 390h3v3h-3zM223 393h6v8h-6zM156 393h3v15h-3zM221 401h5v11h-5zM218 412h5v4h-5zM218 416h3v3h-3zM159 419h3v4h-3zM215 419h6v11h-6zM162 427h3v7h-3zM215 430h3v4h-3zM162 438h3v11h-3zM212 434h6v22h-6zM209 456h6v8h-6zM206 464h6v3h-6zM168 467h3v4h-3zM203 467h6v8h-6zM180 475h6v4h-6zM200 475h6v4h-6zM188 479h15v3h-15z"/><path fill="#00cade" d="M232 227h18v3h-18zM226 230h27v4h-27zM223 234h33v4h-33zM221 238h38v3h-38zM218 241h43v4h-43zM209 245h52v4h-52zM206 249h20v4h-20zM206 253h15v3h-15zM206 256h12v4h-12zM235 249h26v11h-26zM203 260h12v7h-12zM203 267h9v8h-9zM238 260h23v15h-23zM238 275h21v3h-21zM235 278h21v4h-21zM203 275h6v7h-6zM235 282h18v4h-18zM203 282h3v8h-3zM232 286h18v4h-18zM232 290h15v7h-15zM200 290h3v7h-3zM232 297h12v4h-12zM232 301h9v3h-9zM229 304h12v8h-12zM197 312h3v18h-3zM229 312h9v18h-9zM194 330h3v4h-3zM191 334h3v4h-3zM186 338h2v3h-2zM226 330h9v11h-9zM183 341h3v4h-3zM177 345h6v4h-6zM226 341h6v26h-6zM177 349h3v18h-3zM174 367h6v4h-6zM174 371h3v8h-3zM223 367h6v12h-6zM221 379h8v3h-8zM171 379h3v3h-3zM165 382h3v4h-3zM221 382h5v8h-5zM162 386h3v4h-3zM218 390h8v3h-8zM159 393h3v4h-3zM218 393h5v8h-5zM215 401h6v7h-6zM212 408h9v4h-9zM212 412h6v4h-6zM209 416h9v3h-9zM159 408h3v11h-3zM209 419h6v8h-6zM162 423h3v4h-3zM206 427h9v7h-9zM206 434h6v19h-6zM203 453h9v3h-9zM203 456h6v4h-6zM200 460h9v4h-9zM165 456h3v8h-3zM200 464h6v3h-6zM174 471h3v4h-3zM197 467h6v8h-6zM186 475h14v4h-14z"/><path fill="#00deeb" d="M226 249h9v4h-9zM221 253h14v3h-14zM218 256h17v4h-17zM215 260h23v7h-23zM212 267h26v8h-26zM209 275h29v3h-29zM209 278h26v4h-26zM206 282h29v4h-29zM215 286h17v4h-17zM206 286h6v4h-6zM203 290h6v3h-6zM218 290h14v3h-14zM203 293h3v4h-3zM200 297h6v4h-6zM221 293h11v11h-11zM221 304h8v23h-8zM200 301h3v29h-3zM218 327h11v3h-11zM197 330h3v4h-3zM194 334h6v4h-6zM188 338h6v3h-6zM186 341h5v4h-5zM183 345h5v4h-5zM218 330h8v37h-8zM180 349h6v22h-6zM177 371h6v4h-6zM177 375h3v4h-3zM218 367h5v12h-5zM174 379h3v3h-3zM168 382h6v4h-6zM165 386h6v4h-6zM215 379h6v11h-6zM162 390h6v3h-6zM212 390h6v7h-6zM162 393h3v4h-3zM209 397h9v4h-9zM209 401h6v3h-6zM159 397h3v11h-3zM206 404h9v4h-9zM203 408h9v4h-9zM200 412h12v4h-12zM162 419h3v4h-3zM200 416h9v11h-9zM165 427h3v11h-3zM200 427h6v22h-6zM197 449h9v4h-9zM165 453h3v3h-3zM197 453h6v7h-6zM197 460h3v4h-3zM194 464h6v3h-6zM191 467h6v4h-6zM177 471h20v4h-20z"/><path fill="#00f6fa" d="M212 286h3v4h-3zM209 290h9v3h-9zM206 293h15v8h-15zM203 301h18v26h-18zM203 327h15v3h-15zM200 330h18v8h-18zM194 338h24v3h-24zM191 341h27v4h-27zM188 345h9v4h-9zM203 345h15v4h-15zM206 349h12v4h-12zM186 349h8v18h-8zM209 353h9v14h-9zM206 367h12v4h-12zM186 367h11v4h-11zM183 371h14v4h-14zM203 371h15v4h-15zM180 375h38v4h-38zM177 379h38v3h-38zM174 382h41v4h-41zM171 386h44v4h-44zM188 390h24v3h-24zM168 390h6v3h-6zM165 393h3v4h-3zM191 393h21v4h-21zM191 397h18v7h-18zM188 404h18v4h-18zM162 397h6v11h-6zM188 408h15v4h-15zM162 408h3v8h-3zM162 416h6v3h-6zM165 419h3v8h-3zM188 412h12v26h-12zM165 438h3v7h-3zM191 438h9v11h-9zM165 449h3v4h-3zM191 449h6v15h-6zM168 464h3v3h-3zM188 464h6v3h-6zM171 467h3v4h-3zM183 467h8v4h-8z"/><path fill="#00ffdf" d="M197 345h6v4h-6zM194 349h12v4h-12zM194 353h15v14h-15zM197 367h9v4h-9zM197 371h6v4h-6zM174 390h14v3h-14zM168 393h23v11h-23zM168 404h20v4h-20zM165 408h23v8h-23zM168 416h20v3h-20zM180 419h8v4h-8zM168 419h6v4h-6zM168 423h3v15h-3zM183 423h5v15h-5zM165 445h3v4h-3zM186 438h5v15h-5zM188 453h3v3h-3zM186 456h5v8h-5zM186 464h2v3h-2zM174 467h9v4h-9z"/><path fill="#00ffab" d="M174 419h6v4h-6zM180 423h3v4h-3zM171 423h3v4h-3zM168 438h3v7h-3zM183 438h3v15h-3zM183 453h5v3h-5zM168 456h3v8h-3zM183 456h3v11h-3z"/><path fill="#00ff62" d="M174 423h6v4h-6zM171 427h3v11h-3zM180 427h3v18h-3zM168 445h3v11h-3zM171 464h3v3h-3zM180 464h3v3h-3z"/><path fill="#00ff28" d="M174 427h6v7h-6zM177 434h3v4h-3zM171 438h3v7h-3zM180 445h3v19h-3zM174 464h6v3h-6z"/><path fill="#00fc00" d="M174 434h3v4h-3zM174 438h6v7h-6zM177 445h3v4h-3zM171 445h3v19h-3z"/><path fill="#00ee00" d="M174 445h3v4h-3zM174 449h6v15h-6z"/><rect x="131" y="46" width="2" height="3" fill="#ff00ff"/><path d="M159 54h1v1h-1zM159 59h1v1h-1zM159 64h1v1h-1zM159 69h1v1h-1zM159 74h1v1h-1zM159 79h1v1h-1zM159 84h1v1h-1zM159 89h1v1h-1zM159 94h1v1h-1zM159 99h1v1h-1zM159 104h1v1h-1zM159 109h1v1h-1zM159 114h1v1h-1zM159 119h1v1h-1zM159 124h1v1h-1zM159 129h1v1h-1zM159 134h1v1h-1zM159 139h1v1h-1zM159 144h1v1h-1zM159 149h1v1h-1zM159 154h1v1h-1zM159 159h1v1h-1zM159 164h1v1h-1zM159 169h1v1h-1zM159 174h1v1h-1zM159 179h1v1h-1zM159 184h1v1h-1zM159 189h1v1h-1zM159 194h1v1h-1zM159 199h1v1h-1zM159 204h1v1h-1zM159 209h1v1h-1zM159 214h1v1h-1zM159 219h1v1h-1zM159 224h1v1h-1zM159 229h1v1h-1zM159 234h1v1h-1zM159 239h1v1h-1zM159 244h1v1h-1zM159 249h1v1h-1zM159 254h1v1h-1zM159 259h1v1h-1zM159 264h1v1h-1zM159 269h1v1h-1zM159 274h1v1h-1zM159 279h1v1h-1zM159 284h1v1h-1zM159 289h1v1h-1zM159 294h1v1h-1zM159 299h1v1h-1zM159 304h1v1h-1zM159 309h1v1h-1zM159 314h1v1h-1zM159 319h1v1h-1zM159 324h1v1h-1zM159 329h1v1h-1zM159 334h1v1h-1zM159 339h1v1h-1zM159 344h1v1h-1zM159 349h1v1h-1zM159 354h1v1h-1zM159 359h1v1h-1zM159 364h1v1h-1zM159 369h1v1h-1zM159 374h1v1h-1zM159 379h1v1h-1zM159 384h1v1h-1zM159 389h1v1h-1zM159 394h1v1h-1zM159 399h1v1h-1zM159 404h1v1h-1zM159 409h1v1h-1zM159 414h1v1h-1zM159 419h1v1h-1zM159 424h1v1h-1zM159 429h1v1h-1zM159 434h1v1h-1zM159 439h1v1h-1zM159 444h1v1h-1zM159 449h1v1h-1zM159 454h1v1h-1zM159 459h1v1h-1zM159 464h1v1h-1zM159 469h1v1h-1zM159 474h1v1h-1zM159 479h1v1h-1zM159 484h1v1h-1zM159 489h1v1h-1zM159 494h1v1h-1zM159 499h1v1h-1zM159 504h1v1h-1zM159 509h1v1h-1zM159 514h1v1h-1zM159 519h1v1h-1zM159 524h1v1h-1zM255 53h1v1h-1zM255 58h1v1h-1zM255 63h1v1h-1zM255 68h1v1h-1zM255 73h1v1h-1zM255 78h1v1h-1zM255 83h1v1h-1zM255 88h1v1h-1zM255 93h1v1h-1zM255 98h1v1h-1zM255 103h1v1h-1zM255 108h1v1h-1zM255 113h1v1h-1zM255 118h1v1h-1zM255 123h1v1h-1zM255 128h1v1h-1zM255 133h1v1h-1zM255 138h1v1h-1zM255 143h1v1h-1zM255 148h1v1h-1zM255 153h1v1h-1zM255 158h1v1h-1zM255 163h1v1h-1zM255 168h1v1h-1zM255 173h1v1h-1zM255 178h1v1h-1zM255 183h1v1h-1zM255 188h1v1h-1zM255 193h1v1h-1zM255 198h1v1h-1zM255 203h1v1h-1zM255 208h1v1h-1zM255 213h1v1h-1zM255 218h1v1h-1zM255 223h1v1h-1zM255 228h1v1h-1zM255 233h1v1h-1zM255 238h1v1h-1zM255 243h1v1h-1zM255 248h1v1h-1zM255 253h1v1h-1zM255 258h1v1h-1zM255 263h1v1h-1zM255 268h1v1h-1zM255 273h1v1h-1zM255 278h1v1h-1zM255 283h1v1h-1zM255 288h1v1h-1zM255 293h1v1h-1zM255 298h1v1h-1zM255 303h1v1h-1zM255 308h1v1h-1zM255 313h1v1h-1zM255 318h1v1h-1zM255 323h1v1h-1zM255 328h1v1h-1zM255 333h1v1h-1zM255 338h1v1h-1zM255 343h1v1h-1zM255 348h1v1h-1zM255 353h1v1h-1zM255 358h1v1h-1zM255 363h1v1h-1zM255 368h1v1h-1zM255 373h1v1h-1zM255 378h1v1h-1zM255 383h1v1h-1zM255 388h1v1h-1zM255 393h1v1h-1zM255 398h1v1h-1zM255 403h1v1h-1zM255 408h1v1h-1zM255 413h1v1h-1zM255 418h1v1h-1zM255 423h1v1h-1zM255 428h1v1h-1zM255 433h1v1h-1zM255 438h1v1h-1zM255 443h1v1h-1zM255 448h1v1h-1zM255 453h1v1h-1zM255 458h1v1h-1zM255 463h1v1h-1zM255 468h1v1h-1zM255 473h1v1h-1zM255 478h1v1h-1zM255 483h1v1h-1zM255 488h1v1h-1zM255 493h1v1h-1zM255 498h1v1h-1zM255 503h1v1h-1zM255 508h1v1h-1zM255 513h1v1h-1zM255 518h1v1h-1zM255 523h1v1h-1zM350 57h1v1h-1zM350 62h1v1h-1zM350 67h1v1h-1zM350 72h1v1h-1zM350 77h1v1h-1zM350 82h1v1h-1zM350 87h1v1h-1zM350 92h1v1h-1zM350 97h1v1h-1zM350 102h1v1h-1zM350 107h1v1h-1zM350 112h1v1h-1zM350 117h1v1h-1zM350 122h1v1h-1zM350 127h1v1h-1zM350 132h1v1h-1zM350 137h1v1h-1zM350 142h1v1h-1zM350 147h1v1h-1zM350 152h1v1h-1zM350 157h1v1h-1zM350 162h1v1h-1zM350 167h1v1h-1zM350 172h1v1h-1zM350 177h1v1h-1zM350 182h1v1h-1zM350 187h1v1h-1zM350 192h1v1h-1zM350 197h1v1h-1zM350 202h1v1h-1zM350 207h1v1h-1zM350 212h1v1h-1zM350 217h1v1h-1zM350 222h1v1h-1zM350 227h1v1h-1zM350 232h1v1h-1zM350 237h1v1h-1zM350 242h1v1h-1zM350 247h1v1h-1zM350 252h1v1h-1zM350 257h1v1h-1zM350 262h1v1h-1zM350 267h1v1h-1zM350 272h1v1h-1zM350 277h1v1h-1zM350 282h1v1h-1zM350 287h1v1h-1zM350 292h1v1h-1zM350 297h1v1h-1zM350 302h1v1h-1zM350 307h1v1h-1zM350 312h1v1h-1zM350 317h1v1h-1zM350 322h1v1h-1zM350 327h1v1h-1zM350 332h1v1h-1zM350 337h1v1h-1zM350 342h1v1h-1zM350 347h1v1h-1zM350 352h1v1h-1zM350 357h1v1h-1zM350 362h1v1h-1zM350 367h1v1h-1zM350 372h1v1h-1zM350 377h1v1h-1zM350 382h1v1h-1zM350 387h1v1h-1zM350 392h1v1h-1zM350 397h1v1h-1zM350 402h1v1h-1zM350 407h1v1h-1zM350 412h1v1h-1zM350 417h1v1h-1zM350 422h1v1h-1zM350 427h1v1h-1zM350 432h1v1h-1zM350 437h1v1h-1zM350 442h1v1h-1zM350 447h1v1h-1zM350 452h1v1h-1zM350 457h1v1h-1zM350 462h1v1h-1zM350 467h1v1h-1zM350 472h1v1h-1zM350 477h1v1h-1zM350 482h1v1h-1zM350 487h1v1h-1zM350 492h1v1h-1zM350 497h1v1h-1zM350 502h1v1h-1zM350 507h1v1h-1zM350 512h1v1h-1zM350 517h1v1h-1zM350 522h1v1h-1zM446 56h1v1h-1zM446 61h1v1h-1zM446 66h1v1h-1zM446 71h1v1h-1zM446 76h1v1h-1zM446 81h1v1h-1zM446 86h1v1h-1zM446 91h1v1h-1zM446 96h1v1h-1zM446 101h1v1h-1zM446 106h1v1h-1zM446 111h1v1h-1zM446 116h1v1h-1zM446 121h1v1h-1zM446 126h1v1h-1zM446 131h1v1h-1zM446 136h1v1h-1zM446 141h1v1h-1zM446 146h1v1h-1zM446 151h1v1h-1zM446 156h1v1h-1zM446 161h1v1h-1zM446 166h1v1h-1zM446 171h1v1h-1zM446 176h1v1h-1zM446 181h1v1h-1zM446 186h1v1h-1zM446 191h1v1h-1zM446 196h1v1h-1zM446 201h1v1h-1zM446 206h1v1h-1zM446 211h1v1h-1zM446 216h1v1h-1zM446 221h1v1h-1zM446 226h1v1h-1zM446 231h1v1h-1zM446 236h1v1h-1zM446 241h1v1h-1zM446 246h1v1h-1zM446 251h1v1h-1zM446 256h1v1h-1zM446 261h1v1h-1zM446 266h1v1h-1zM446 271h1v1h-1zM446 276h1v1h-1zM446 281h1v1h-1zM446 286h1v1h-1zM446 291h1v1h-1zM446 296h1v1h-1zM446 301h1v1h-1zM446 306h1v1h-1zM446 311h1v1h-1zM446 316h1v1h-1zM446 321h1v1h-1zM446 326h1v1h-1zM446 331h1v1h-1zM446 336h1v1h-1zM446 341h1v1h-1zM446 346h1v1h-1zM446 351h1v1h-1zM446 356h1v1h-1zM446 361h1v1h-1zM446 366h1v1h-1zM446 371h1v1h-1zM446 376h1v1h-1zM446 381h1v1h-1zM446 386h1v1h-1zM446 391h1v1h-1zM446 396h1v1h-1zM446 401h1v1h-1zM446 406h1v1h-1zM446 411h1v1h-1zM446 416h1v1h-1zM446 421h1v1h-1zM446 426h1v1h-1zM446 431h1v1h-1zM446 436h1v1h-1zM446 441h1v1h-1zM446 446h1v1h-1zM446 451h1v1h-1zM446 456h1v1h-1zM446 461h1v1h-1zM446 466h1v1h-1zM446 471h1v1h-1zM446 476h1v1h-1zM446 481h1v1h-1zM446 486h1v1h-1zM446 491h1v1h-1zM446 496h1v1h-1zM446 501h1v1h-1zM446 506h1v1h-1zM446 511h1v1h-1zM446 516h1v1h-1zM446 521h1v1h-1zM446 526h1v1h-1zM541 55h1v1h-1zM541 60h1v1h-1zM541 65h1v1h-1zM541 70h1v1h-1zM541 75h1v1h-1zM541 80h1v1h-1zM541 85h1v1h-1zM541 90h1v1h-1zM541 95h1v1h-1zM541 100h1v1h-1zM541 105h1v1h-1zM541 110h1v1h-1zM541 115h1v1h-1zM541 120h1v1h-1zM541 125h1v1h-1zM541 130h1v1h-1zM541 135h1v1h-1zM541 140h1v1h-1zM541 145h1v1h-1zM541 150h1v1h-1zM541 155h1v1h-1zM541 160h1v1h-1zM541 165h1v1h-1zM541 170h1v1h-1zM541 175h1v1h-1zM541 180h1v1h-1zM541 185h1v1h-1zM541 190h1v1h-1zM541 195h1v1h-1zM541 200h1v1h-1zM541 205h1v1h-1zM541 210h1v1h-1zM541 215h1v1h-1zM541 220h1v1h-1zM541 225h1v1h-1zM541 230h1v1h-1zM541 235h1v1h-1zM541 240h1v1h-1zM541 245h1v1h-1zM541 250h1v1h-1zM541 255h1v1h-1zM541 260h1v1h-1zM541 265h1v1h-1zM541 270h1v1h-1zM541 275h1v1h-1zM541 280h1v1h-1zM541 285h1v1h-1zM541 290h1v1h-1zM541 295h1v1h-1zM541 300h1v1h-1zM541 305h1v1h-1zM541 310h1v1h-1zM541 315h1v1h-1zM541 320h1v1h-1zM541 325h1v1h-1zM541 330h1v1h-1zM541 335h1v1h-1zM541 340h1v1h-1zM541 345h1v1h-1zM541 350h1v1h-1zM541 355h1v1h-1zM541 360h1v1h-1zM541 365h1v1h-1zM541 370h1v1h-1zM541 375h1v1h-1zM541 380h1v1h-1zM541 385h1v1h-1zM541 390h1v1h-1zM541 395h1v1h-1zM541 400h1v1h-1zM541 405h1v1h-1zM541 410h1v1h-1zM541 415h1v1h-1zM541 420h1v1h-1zM541 425h1v1h-1zM541 430h1v1h-1zM541 435h1v1h-1zM541 440h1v1h-1zM541 445h1v1h-1zM541 450h1v1h-1zM541 455h1v1h-1zM541 460h1v1h-1zM541 465h1v1h-1zM541 470h1v1h-1zM541 475h1v1h-1zM541 480h1v1h-1zM541 485h1v1h-1zM541 490h1v1h-1zM541 495h1v1h-1zM541 500h1v1h-1zM541 505h1v1h-1zM541 510h1v1h-1zM541 515h1v1h-1zM541 520h1v1h-1zM541 525h1v1h-1zM637 54h1v1h-1zM637 59h1v1h-1zM637 64h1v1h-1zM637 69h1v1h-1zM637 74h1v1h-1zM637 79h1v1h-1zM637 84h1v1h-1zM637 89h1v1h-1zM637 94h1v1h-1zM637 99h1v1h-1zM637 104h1v1h-1zM637 109h1v1h-1zM637 114h1v1h-1zM637 119h1v1h-1zM637 124h1v1h-1zM637 129h1v1h-1zM637 134h1v1h-1zM637 139h1v1h-1zM637 144h1v1h-1zM637 149h1v1h-1zM637 154h1v1h-1zM637 159h1v1h-1zM637 164h1v1h-1zM637 169h1v1h-1zM637 174h1v1h-1zM637 179h1v1h-1zM637 184h1v1h-1zM637 189h1v1h-1zM637 194h1v1h-1zM637 199h1v1h-1zM637 204h1v1h-1zM637 209h1v1h-1zM637 214h1v1h-1zM637 219h1v1h-1zM637 224h1v1h-1zM637 229h1v1h-1zM637 234h1v1h-1zM637 239h1v1h-1zM637 244h1v1h-1zM637 249h1v1h-1zM637 254h1v1h-1zM637 259h1v1h-1zM637 264h1v1h-1zM637 269h1v1h-1zM637 274h1v1h-1zM637 279h1v1h-1zM637 284h1v1h-1zM637 289h1v1h-1zM637 294h1v1h-1zM637 299h1v1h-1zM637 304h1v1h-1zM637 309h1v1h-1zM637 314h1v1h-1zM637 319h1v1h-1zM637 324h1v1h-1zM637 329h1v1h-1zM637 334h1v1h-1zM637 339h1v1h-1zM637 344h1v1h-1zM637 349h1v1h-1zM637 354h1v1h-1zM637 359h1v1h-1zM637 364h1v1h-1zM637 369h1v1h-1zM637 374h1v1h-1zM637 379h1v1h-1zM637 384h1v1h-1zM637 389h1v1h-1zM637 394h1v1h-1zM637 399h1v1h-1zM637 404h1v1h-1zM637 409h1v1h-1zM637 414h1v1h-1zM637 419h1v1h-1zM637 424h1v1h-1zM637 429h1v1h-1zM637 434h1v1h-1zM637 439h1v1h-1zM637 444h1v1h-1zM637 449h1v1h-1zM637 454h1v1h-1zM637 459h1v1h-1zM637 464h1v1h-1zM637 469h1v1h-1zM637 474h1v1h-1zM637 479h1v1h-1zM637 484h1v1h-1zM637 489h1v1h-1zM637 494h1v1h-1zM637 499h1v1h-1zM637 504h1v1h-1zM637 509h1v1h-1zM637 514h1v1h-1zM637 519h1v1h-1zM637 524h1v1h-1zM732 53h1v1h-1zM732 58h1v1h-1zM732 63h1v1h-1zM732 68h1v1h-1zM732 73h1v1h-1zM732 78h1v1h-1zM732 83h1v1h-1zM732 88h1v1h-1zM732 93h1v1h-1zM732 98h1v1h-1zM732 103h1v1h-1zM732 108h1v1h-1zM732 113h1v1h-1zM732 118h1v1h-1zM732 123h1v1h-1zM732 128h1v1h-1zM732 133h1v1h-1zM732 138h1v1h-1zM732 143h1v1h-1zM732 148h1v1h-1zM732 153h1v1h-1zM732 158h1v1h-1zM732 163h1v1h-1zM732 168h1v1h-1zM732 173h1v1h-1zM732 178h1v1h-1zM732 183h1v1h-1zM732 188h1v1h-1zM732 193h1v1h-1zM732 198h1v1h-1zM732 203h1v1h-1zM732 208h1v1h-1zM732 213h1v1h-1zM732 218h1v1h-1zM732 223h1v1h-1zM732 228h1v1h-1zM732 233h1v1h-1zM732 238h1v1h-1zM732 243h1v1h-1zM732 248h1v1h-1zM732 253h1v1h-1zM732 258h1v1h-1zM732 263h1v1h-1zM732 268h1v1h-1zM732 273h1v1h-1zM732 278h1v1h-1zM732 283h1v1h-1zM732 288h1v1h-1zM732 293h1v1h-1zM732 298h1v1h-1zM732 303h1v1h-1zM732 308h1v1h-1zM732 313h1v1h-1zM732 318h1v1h-1zM732 323h1v1h-1zM732 328h1v1h-1zM732 333h1v1h-1zM732 338h1v1h-1zM732 343h1v1h-1zM732 348h1v1h-1zM732 353h1v1h-1zM732 358h1v1h-1zM732 363h1v1h-1zM732 368h1v1h-1zM732 373h1v1h-1zM732 378h1v1h-1zM732 383h1v1h-1zM732 388h1v1h-1zM732 393h1v1h-1zM732 398h1v1h-1zM732 403h1v1h-1zM732 408h1v1h-1zM732 413h1v1h-1zM732 418h1v1h-1zM732 423h1v1h-1zM732 428h1v1h-1zM732 433h1v1h-1zM732 438h1v1h-1zM732 443h1v1h-1zM732 448h1v1h-1zM732 453h1v1h-1zM732 458h1v1h-1zM732 463h1v1h-1zM732 468h1v1h-1zM732 473h1v1h-1zM732 478h1v1h-1zM732 483h1v1h-1zM732 488h1v1h-1zM732 493h1v1h-1zM732 498h1v1h-1zM732 503h1v1h-1zM732 508h1v1h-1zM732 513h1v1h-1zM732 518h1v1h-1zM732 523h1v1h-1zM142 520h1v1h-1zM147 520h1v1h-1zM152 520h1v1h-1zM157 520h1v1h-1zM162 520h1v1h-1zM167 520h1v1h-1zM172 520h1v1h-1zM177 520h1v1h-1zM182 520h1v1h-1zM187 520h1v1h-1zM192 520h1v1h-1zM197 520h1v1h-1zM202 520h1v1h-1zM207 520h1v1h-1zM212 520h1v1h-1zM217 520h1v1h-1zM222 520h1v1h-1zM227 520h1v1h-1zM232 520h1v1h-1zM237 520h1v1h-1zM242 520h1v1h-1zM247 520h1v1h-1zM252 520h1v1h-1zM257 520h1v1h-1zM262 520h1v1h-1zM267 520h1v1h-1zM272 520h1v1h-1zM277 520h1v1h-1zM282 520h1v1h-1zM287 520h1v1h-1zM292 520h1v1h-1zM297 520h1v1h-1zM302 520h1v1h-1zM307 520h1v1h-1zM312 520h1v1h-1zM317 520h1v1h-1zM322 520h1v1h-1zM327 520h1v1h-1zM332 520h1v1h-1zM337 520h1v1h-1zM342 520h1v1h-1zM347 520h1v1h-1zM352 520h1v1h-1zM357 520h1v1h-1zM362 520h1v1h-1zM367 520h1v1h-1zM372 520h1v1h-1zM377 520h1v1h-1zM382 520h1v1h-1zM387 520h1v1h-1zM392 520h1v1h-1zM397 520h1v1h-1zM402 520h1v1h-1zM407 520h1v1h-1zM412 520h1v1h-1zM417 520h1v1h-1zM422 520h1v1h-1zM427 520h1v1h-1zM432 520h1v1h-1zM437 520h1v1h-1zM442 520h1v1h-1zM447 520h1v1h-1zM452 520h1v1h-1zM457 520h1v1h-1zM462 520h1v1h-1zM467 520h1v1h-1zM472 520h1v1h-1zM477 520h1v1h-1zM482 520h1v1h-1zM487 520h1v1h-1zM492 520h1v1h-1zM497 520h1v1h-1zM502 520h1v1h-1zM507 520h1v1h-1zM512 520h1v1h-1zM517 520h1v1h-1zM522 520h1v1h-1zM527 520h1v1h-1zM532 520h1v1h-1zM537 520h1v1h-1zM542 520h1v1h-1zM547 520h1v1h-1zM552 520h1v1h-1zM557 520h1v1h-1zM562 520h1v1h-1zM567 520h1v1h-1zM572 520h1v1h-1zM577 520h1v1h-1zM582 520h1v1h-1zM587 520h1v1h-1zM592 520h1v1h-1zM597 520h1v1h-1zM602 520h1v1h-1zM607 520h1v1h-1zM612 520h1v1h-1zM617 520h1v1h-1zM622 520h1v1h-1zM627 520h1v1h-1zM632 520h1v1h-1zM637 520h1v1h-1zM642 520h1v1h-1zM647 520h1v1h-1zM652 520h1v1h-1zM657 520h1v1h-1zM662 520h1v1h-1zM667 520h1v1h-1zM672 520h1v1h-1zM677 520h1v1h-1zM682 520h1v1h-1zM687 520h1v1h-1zM692 520h1v1h-1zM697 520h1v1h-1zM702 520h1v1h-1zM707 520h1v1h-1zM712 520h1v1h-1zM717 520h1v1h-1zM722 520h1v1h-1zM727 520h1v1h-1zM732 520h1v1h-1zM737 520h1v1h-1zM742 520h1v1h-1zM747 520h1v1h-1zM752 520h1v1h-1zM757 520h1v1h-1zM762 520h1v1h-1zM767 520h1v1h-1zM772 520h1v1h-1zM777 520h1v1h-1zM782 520h1v1h-1zM787 520h1v1h-1zM792 520h1v1h-1zM797 520h1v1h-1zM802 520h1v1h-1zM807 520h1v1h-1zM812 520h1v1h-1zM817 520h1v1h-1zM142 437h1v1h-1zM147 437h1v1h-1zM152 437h1v1h-1zM157 437h1v1h-1zM162 437h1v1h-1zM167 437h1v1h-1zM172 437h1v1h-1zM177 437h1v1h-1zM182 437h1v1h-1zM187 437h1v1h-1zM192 437h1v1h-1zM197 437h1v1h-1zM202 437h1v1h-1zM207 437h1v1h-1zM212 437h1v1h-1zM217 437h1v1h-1zM222 437h1v1h-1zM227 437h1v1h-1zM232 437h1v1h-1zM237 437h1v1h-1zM242 437h1v1h-1zM247 437h1v1h-1zM252 437h1v1h-1zM257 437h1v1h-1zM262 437h1v1h-1zM267 437h1v1h-1zM272 437h1v1h-1zM277 437h1v1h-1zM282 437h1v1h-1zM287 437h1v1h-1zM292 437h1v1h-1zM297 437h1v1h-1zM302 437h1v1h-1zM307 437h1v1h-1zM312 437h1v1h-1zM317 437h1v1h-1zM322 437h1v1h-1zM327 437h1v1h-1zM332 437h1v1h-1zM337 437h1v1h-1zM342 437h1v1h-1zM347 437h1v1h-1zM352 437h1v1h-1zM357 437h1v1h-1zM362 437h1v1h-1zM367 437h1v1h-1zM372 437h1v1h-1zM377 437h1v1h-1zM382 437h1v1h-1zM387 437h1v1h-1zM392 437h1v1h-1zM397 437h1v1h-1zM402 437h1v1h-1zM407 437h1v1h-1zM412 437h1v1h-1zM417 437h1v1h-1zM422 437h1v1h-1zM427 437h1v1h-1zM432 437h1v1h-1zM437 437h1v1h-1zM442 437h1v1h-1zM447 437h1v1h-1zM452 437h1v1h-1zM457 437h1v1h-1zM462 437h1v1h-1zM467 437h1v1h-1zM472 437h1v1h-1zM477 437h1v1h-1zM482 437h1v1h-1zM487 437h1v1h-1zM492 437h1v1h-1zM497 437h1v1h-1zM502 437h1v1h-1zM507 437h1v1h-1zM512 437h1v1h-1zM517 437h1v1h-1zM522 437h1v1h-1zM527 437h1v1h-1zM532 437h1v1h-1zM537 437h1v1h-1zM542 437h1v1h-1zM547 437h1v1h-1zM552 437h1v1h-1zM557 437h1v1h-1zM562 437h1v1h-1zM567 437h1v1h-1zM572 437h1v1h-1zM577 437h1v1h-1zM582 437h1v1h-1zM587 437h1v1h-1zM592 437h1v1h-1zM597 437h1v1h-1zM602 437h1v1h-1zM607 437h1v1h-1zM612 437h1v1h-1zM617 437h1v1h-1zM622 437h1v1h-1zM627 437h1v1h-1zM632 437h1v1h-1zM637 437h1v1h-1zM642 437h1v1h-1zM647 437h1v1h-1zM652 437h1v1h-1zM657 437h1v1h-1zM662 437h1v1h-1zM667 437h1v1h-1zM672 437h1v1h-1zM677 437h1v1h-1zM682 437h1v1h-1zM687 437h1v1h-1zM692 437h1v1h-1zM697 437h1v1h-1zM702 437h1v1h-1zM707 437h1v1h-1zM712 437h1v1h-1zM717 437h1v1h-1zM722 437h1v1h-1zM727 437h1v1h-1zM732 437h1v1h-1zM737 437h1v1h-1zM742 437h1v1h-1zM747 437h1v1h-1zM752 437h1v1h-1zM757 437h1v1h-1zM762 437h1v1h-1zM767 437h1v1h-1zM772 437h1v1h-1zM777 437h1v1h-1zM782 437h1v1h-1zM787 437h1v1h-1zM792 437h1v1h-1zM797 437h1v1h-1zM802 437h1v1h-1zM807 437h1v1h-1zM812 437h1v1h-1zM817 437h1v1h-1zM142 354h1v1h-1zM147 354h1v1h-1zM152 354h1v1h-1zM157 354h1v1h-1zM162 354h1v1h-1zM167 354h1v1h-1zM172 354h1v1h-1zM177 354h1v1h-1zM182 354h1v1h-1zM187 354h1v1h-1zM192 354h1v1h-1zM197 354h1v1h-1zM202 354h1v1h-1zM207 354h1v1h-1zM212 354h1v1h-1zM217 354h1v1h-1zM222 354h1v1h-1zM227 354h1v1h-1zM232 354h1v1h-1zM237 354h1v1h-1zM242 354h1v1h-1zM247 354h1v1h-1zM252 354h1v1h-1zM257 354h1v1h-1zM262 354h1v1h-1zM267 354h1v1h-1zM272 354h1v1h-1zM277 354h1v1h-1zM282 354h1v1h-1zM287 354h1v1h-1zM292 354h1v1h-1zM297 354h1v1h-1zM302 354h1v1h-1zM307 354h1v1h-1zM312 354h1v1h-1zM317 354h1v1h-1zM322 354h1v1h-1zM327 354h1v1h-1zM332 354h1v1h-1zM337 354h1v1h-1zM342 354h1v1h-1zM347 354h1v1h-1zM352 354h1v1h-1zM357 354h1v1h-1zM362 354h1v1h-1zM367 354h1v1h-1zM372 354h1v1h-1zM377 354h1v1h-1zM382 354h1v1h-1zM387 354h1v1h-1zM392 354h1v1h-1zM397 354h1v1h-1zM402 354h1v1h-1zM407 354h1v1h-1zM412 354h1v1h-1zM417 354h1v1h-1zM422 354h1v1h-1zM427 354h1v1h-1zM432 354h1v1h-1zM437 354h1v1h-1zM442 354h1v1h-1zM447 354h1v1h-1zM452 354h1v1h-1zM457 354h1v1h-1zM462 354h1v1h-1zM467 354h1v1h-1zM472 354h1v1h-1zM477 354h1v1h-1zM482 354h1v1h-1zM487 354h1v1h-1zM492 354h1v1h-1zM497 354h1v1h-1zM502 354h1v1h-1zM507 354h1v1h-1zM512 354h1v1h-1zM517 354h1v1h-1zM522 354h1v1h-1zM527 354h1v1h-1zM532 354h1v1h-1zM537 354h1v1h-1zM542 354h1v1h-1zM547 354h1v1h-1zM552 354h1v1h-1zM557 354h1v1h-1zM562 354h1v1h-1zM567 354h1v1h-1zM572 354h1v1h-1zM577 354h1v1h-1zM582 354h1v1h-1zM587 354h1v1h-1zM592 354h1v1h-1zM597 354h1v1h-1zM602 354h1v1h-1zM607 354h1v1h-1zM612 354h1v1h-1zM617 354h1v1h-1zM622 354h1v1h-1zM627 354h1v1h-1zM632 354h1v1h-1zM637 354h1v1h-1zM642 354h1v1h-1zM647 354h1v1h-1zM652 354h1v1h-1zM657 354h1v1h-1zM662 354h1v1h-1zM667 354h1v1h-1zM672 354h1v1h-1zM677 354h1v1h-1zM682 354h1v1h-1zM687 354h1v1h-1zM692 354h1v1h-1zM697 354h1v1h-1zM702 354h1v1h-1zM707 354h1v1h-1zM712 354h1v1h-1zM717 354h1v1h-1zM722 354h1v1h-1zM727 354h1v1h-1zM732 354h1v1h-1zM737 354h1v1h-1zM742 354h1v1h-1zM747 354h1v1h-1zM752 354h1v1h-1zM757 354h1v1h-1zM762 354h1v1h-1zM767 354h1v1h-1zM772 354h1v1h-1zM777 354h1v1h-1zM782 354h1v1h-1zM787 354h1v1h-1zM792 354h1v1h-1zM797 354h1v1h-1zM802 354h1v1h-1zM807 354h1v1h-1zM812 354h1v1h-1zM817 354h1v1h-1zM142 270h1v1h-1zM147 270h1v1h-1zM152 270h1v1h-1zM157 270h1v1h-1zM162 270h1v1h-1zM167 270h1v1h-1zM172 270h1v1h-1zM177 270h1v1h-1zM182 270h1v1h-1zM187 270h1v1h-1zM192 270h1v1h-1zM197 270h1v1h-1zM202 270h1v1h-1zM207 270h1v1h-1zM212 270h1v1h-1zM217 270h1v1h-1zM222 270h1v1h-1zM227 270h1v1h-1zM232 270h1v1h-1zM237 270h1v1h-1zM242 270h1v1h-1zM247 270h1v1h-1zM252 270h1v1h-1zM257 270h1v1h-1zM262 270h1v1h-1zM267 270h1v1h-1zM272 270h1v1h-1zM277 270h1v1h-1zM282 270h1v1h-1zM287 270h1v1h-1zM292 270h1v1h-1zM297 270h1v1h-1zM302 270h1v1h-1zM307 270h1v1h-1zM312 270h1v1h-1zM317 270h1v1h-1zM322 270h1v1h-1zM327 270h1v1h-1zM332 270h1v1h-1zM337 270h1v1h-1zM342 270h1v1h-1zM347 270h1v1h-1zM352 270h1v1h-1zM357 270h1v1h-1zM362 270h1v1h-1zM367 270h1v1h-1zM372 270h1v1h-1zM377 270h1v1h-1zM382 270h1v1h-1zM387 270h1v1h-1zM392 270h1v1h-1zM397 270h1v1h-1zM402 270h1v1h-1zM407 270h1v1h-1zM412 270h1v1h-1zM417 270h1v1h-1zM422 270h1v1h-1zM427 270h1v1h-1zM432 270h1v1h-1zM437 270h1v1h-1zM442 270h1v1h-1zM447 270h1v1h-1zM452 270h1v1h-1zM457 270h1v1h-1zM462 270h1v1h-1zM467 270h1v1h-1zM472 270h1v1h-1zM477 270h1v1h-1zM482 270h1v1h-1zM487 270h1v1h-1zM492 270h1v1h-1zM497 270h1v1h-1zM502 270h1v1h-1zM507 270h1v1h-1zM512 270h1v1h-1zM517 270h1v1h-1zM522 270h1v1h-1zM527 270h1v1h-1zM532 270h1v1h-1zM537 270h1v1h-1zM542 270h1v1h-1zM547 270h1v1h-1zM552 270h1v1h-1zM557 270h1v1h-1zM562 270h1v1h-1zM567 270h1v1h-1zM572 270h1v1h-1zM577 270h1v1h-1zM582 270h1v1h-1zM587 270h1v1h-1zM592 270h1v1h-1zM597 270h1v1h-1zM602 270h1v1h-1zM607 270h1v1h-1zM612 270h1v1h-1zM617 270h1v1h-1zM622 270h1v1h-1zM627 270h1v1h-1zM632 270h1v1h-1zM637 270h1v1h-1zM642 270h1v1h-1zM647 270h1v1h-1zM652 270h1v1h-1zM657 270h1v1h-1zM662 270h1v1h-1zM667 270h1v1h-1zM672 270h1v1h-1zM677 270h1v1h-1zM682 270h1v1h-1zM687 270h1v1h-1zM692 270h1v1h-1zM697 270h1v1h-1zM702 270h1v1h-1zM707 270h1v1h-1zM712 270h1v1h-1zM717 270h1v1h-1zM722 270h1v1h-1zM727 270h1v1h-1zM732 270h1v1h-1zM737 270h1v1h-1zM742 270h1v1h-1zM747 270h1v1h-1zM752 270h1v1h-1zM757 270h1v1h-1zM762 270h1v1h-1zM767 270h1v1h-1zM772 270h1v1h-1zM777 270h1v1h-1zM782 270h1v1h-1zM787 270h1v1h-1zM792 270h1v1h-1zM797 270h1v1h-1zM802 270h1v1h-1zM807 270h1v1h-1zM812 270h1v1h-1zM817 270h1v1h-1zM142 187h1v1h-1zM147 187h1v1h-1zM152 187h1v1h-1zM157 187h1v1h-1zM162 187h1v1h-1zM167 187h1v1h-1zM172 187h1v1h-1zM177 187h1v1h-1zM182 187h1v1h-1zM187 187h1v1h-1zM192 187h1v1h-1zM197 187h1v1h-1zM202 187h1v1h-1zM207 187h1v1h-1zM212 187h1v1h-1zM217 187h1v1h-1zM222 187h1v1h-1zM227 187h1v1h-1zM232 187h1v1h-1zM237 187h1v1h-1zM242 187h1v1h-1zM247 187h1v1h-1zM252 187h1v1h-1zM257 187h1v1h-1zM262 187h1v1h-1zM267 187h1v1h-1zM272 187h1v1h-1zM277 187h1v1h-1zM282 187h1v1h-1zM287 187h1v1h-1zM292 187h1v1h-1zM297 187h1v1h-1zM302 187h1v1h-1zM307 187h1v1h-1zM312 187h1v1h-1zM317 187h1v1h-1zM322 187h1v1h-1zM327 187h1v1h-1zM332 187h1v1h-1zM337 187h1v1h-1zM342 187h1v1h-1zM347 187h1v1h-1zM352 187h1v1h-1zM357 187h1v1h-1zM362 187h1v1h-1zM367 187h1v1h-1zM372 187h1v1h-1zM377 187h1v1h-1zM382 187h1v1h-1zM387 187h1v1h-1zM392 187h1v1h-1zM397 187h1v1h-1zM402 187h1v1h-1zM407 187h1v1h-1zM412 187h1v1h-1zM417 187h1v1h-1zM422 187h1v1h-1zM427 187h1v1h-1zM432 187h1v1h-1zM437 187h1v1h-1zM442 187h1v1h-1zM447 187h1v1h-1zM452 187h1v1h-1zM457 187h1v1h-1zM462 187h1v1h-1zM467 187h1v1h-1zM472 187h1v1h-1zM477 187h1v1h-1zM482 187h1v1h-1zM487 187h1v1h-1zM492 187h1v1h-1zM497 187h1v1h-1zM502 187h1v1h-1zM507 187h1v1h-1zM512 187h1v1h-1zM517 187h1v1h-1zM522 187h1v1h-1zM527 187h1v1h-1zM532 187h1v1h-1zM537 187h1v1h-1zM542 187h1v1h-1zM547 187h1v1h-1zM552 187h1v1h-1zM557 187h1v1h-1zM562 187h1v1h-1zM567 187h1v1h-1zM572 187h1v1h-1zM577 187h1v1h-1zM582 187h1v1h-1zM587 187h1v1h-1zM592 187h1v1h-1zM597 187h1v1h-1zM602 187h1v1h-1zM607 187h1v1h-1zM612 187h1v1h-1zM617 187h1v1h-1zM622 187h1v1h-1zM627 187h1v1h-1zM632 187h1v1h-1zM637 187h1v1h-1zM642 187h1v1h-1zM647 187h1v1h-1zM652 187h1v1h-1zM657 187h1v1h-1zM662 187h1v1h-1zM667 187h1v1h-1zM672 187h1v1h-1zM677 187h1v1h-1zM682 187h1v1h-1zM687 187h1v1h-1zM692 187h1v1h-1zM697 187h1v1h-1zM702 187h1v1h-1zM707 187h1v1h-1zM712 187h1v1h-1zM717 187h1v1h-1zM722 187h1v1h-1zM727 187h1v1h-1zM732 187h1v1h-1zM737 187h1v1h-1zM742 187h1v1h-1zM747 187h1v1h-1zM752 187h1v1h-1zM757 187h1v1h-1zM762 187h1v1h-1zM767 187h1v1h-1zM772 187h1v1h-1zM777 187h1v1h-1zM782 187h1v1h-1zM787 187h1v1h-1zM792 187h1v1h-1zM797 187h1v1h-1zM802 187h1v1h-1zM807 187h1v1h-1zM812 187h1v1h-1zM817 187h1v1h-1zM142 103h1v1h-1zM147 103h1v1h-1zM152 103h1v1h-1zM157 103h1v1h-1zM162 103h1v1h-1zM167 103h1v1h-1zM172 103h1v1h-1zM177 103h1v1h-1zM182 103h1v1h-1zM187 103h1v1h-1zM192 103h1v1h-1zM197 103h1v1h-1zM202 103h1v1h-1zM207 103h1v1h-1zM212 103h1v1h-1zM217 103h1v1h-1zM222 103h1v1h-1zM227 103h1v1h-1zM232 103h1v1h-1zM237 103h1v1h-1zM242 103h1v1h-1zM247 103h1v1h-1zM252 103h1v1h-1zM257 103h1v1h-1zM262 103h1v1h-1zM267 103h1v1h-1zM272 103h1v1h-1zM277 103h1v1h-1zM282 103h1v1h-1zM287 103h1v1h-1zM292 103h1v1h-1zM297 103h1v1h-1zM302 103h1v1h-1zM307 103h1v1h-1zM312 103h1v1h-1zM317 103h1v1h-1zM322 103h1v1h-1zM327 103h1v1h-1zM332 103h1v1h-1zM337 103h1v1h-1zM342 103h1v1h-1zM347 103h1v1h-1zM352 103h1v1h-1zM357 103h1v1h-1zM362 103h1v1h-1zM367 103h1v1h-1zM372 103h1v1h-1zM377 103h1v1h-1zM382 103h1v1h-1zM387 103h1v1h-1zM392 103h1v1h-1zM397 103h1v1h-1zM402 103h1v1h-1zM407 103h1v1h-1zM412 103h1v1h-1zM417 103h1v1h-1zM422 103h1v1h-1zM427 103h1v1h-1zM432 103h1v1h-1zM437 103h1v1h-1zM442 103h1v1h-1zM447 103h1v1h-1zM452 103h1v1h-1zM457 103h1v1h-1zM462 103h1v1h-1zM467 103h1v1h-1zM472 103h1v1h-1zM477 103h1v1h-1zM482 103h1v1h-1zM487 103h1v1h-1zM492 103h1v1h-1zM497 103h1v1h-1zM502 103h1v1h-1zM507 103h1v1h-1zM512 103h1v1h-1zM517 103h1v1h-1zM522 103h1v1h-1zM527 103h1v1h-1zM532 103h1v1h-1zM537 103h1v1h-1zM542 103h1v1h-1zM547 103h1v1h-1zM552 103h1v1h-1zM557 103h1v1h-1zM562 103h1v1h-1zM567 103h1v1h-1zM572 103h1v1h-1zM577 103h1v1h-1zM582 103h1v1h-1zM587 103h1v1h-1zM592 103h1v1h-1zM597 103h1v1h-1zM602 103h1v1h-1zM607 103h1v1h-1zM612 103h1v1h-1zM617 103h1v1h-1zM622 103h1v1h-1zM627 103h1v1h-1zM632 103h1v1h-1zM637 103h1v1h-1zM642 103h1v1h-1zM647 103h1v1h-1zM652 103h1v1h-1zM657 103h1v1h-1zM662 103h1v1h-1zM667 103h1v1h-1zM672 103h1v1h-1zM677 103h1v1h-1zM682 103h1v1h-1zM687 103h1v1h-1zM692 103h1v1h-1zM697 103h1v1h-1zM702 103h1v1h-1zM707 103h1v1h-1zM712 103h1v1h-1zM717 103h1v1h-1zM722 103h1v1h-1zM727 103h1v1h-1zM732 103h1v1h-1zM737 103h1v1h-1zM742 103h1v1h-1zM747 103h1v1h-1zM752 103h1v1h-1zM757 103h1v1h-1zM762 103h1v1h-1zM767 103h1v1h-1zM772 103h1v1h-1zM777 103h1v1h-1zM782 103h1v1h-1zM787 103h1v1h-1zM792 103h1v1h-1zM797 103h1v1h-1zM802 103h1v1h-1zM807 103h1v1h-1zM812 103h1v1h-1zM817 103h1v1h-1z" fill="#000"/><path d="M315.5 65.5L306.4 69.7M309.0 67.3L306.4 69.7L309.9 69.3M335.5 65.5L332.7 68.8M333.3 67.4L332.7 68.8L334.0 68.0M295.5 91.5L285.0 98.3M287.7 94.9L285.0 98.3L289.2 97.2M315.5 91.5L303.6 100.4M306.6 96.2L303.6 100.4L308.5 98.8M335.5 91.5L325.9 98.5M328.3 95.1L325.9 98.5L329.8 97.2M356.5 91.5L350.1 93.5M352.0 92.1L350.1 93.5L352.4 93.5M274.5 117.5L265.7 124.9M267.8 121.5L265.7 124.9L269.4 123.4M295.5 117.5L281.5 128.8M284.9 123.6L281.5 128.8L287.3 126.6M315.5 117.5L301.5 129.2M304.8 123.8L301.5 129.2L307.4 126.9M335.5 117.5L321.8 127.4M325.3 122.7L321.8 127.4L327.4 125.6M356.5 117.5L343.3 125.1M346.8 121.2L343.3 125.1L348.5 124.0M376.5 117.5L365.0 124.7M368.0 121.1L365.0 124.7L369.5 123.6M397.5 117.5L388.2 124.8M390.4 121.4L388.2 124.8L392.0 123.4M417.5 117.5L413.7 122.0M414.5 120.1L413.7 122.0L415.5 120.9M254.5 143.5L241.8 155.4M244.7 150.1L241.8 155.4L247.3 152.8M274.5 143.5L259.8 157.2M263.2 151.1L259.8 157.2L266.2 154.3M295.5 143.5L280.5 157.5M283.9 151.2L280.5 157.5L287.0 154.5M315.5 143.5L300.5 157.0M304.0 150.9L300.5 157.0L306.9 154.2M335.5 143.5L320.5 155.2M324.1 149.7L320.5 155.2L326.7 153.0M356.5 143.5L343.6 154.7M346.7 149.6L343.6 154.7L349.1 152.4M376.5 143.5L367.7 154.0M369.5 149.6L367.7 154.0L371.7 151.5M254.5 169.5L240.5 184.0M243.5 177.7L240.5 184.0L246.7 180.7M274.5 169.5L259.5 184.7M262.8 178.1L259.5 184.7L266.1 181.3M295.5 169.5L280.6 184.4M283.9 177.8L280.6 184.4L287.2 181.1M315.5 169.5L300.7 183.8M304.0 177.5L300.7 183.8L307.1 180.7M335.5 169.5L321.2 182.9M324.4 176.9L321.2 182.9L327.4 180.0M356.5 169.5L343.1 180.3M346.3 175.3L343.1 180.3L348.7 178.2M376.5 169.5L366.0 176.9M368.7 173.3L366.0 176.9L370.3 175.6M397.5 169.5L389.5 174.1M391.6 171.7L389.5 174.1L392.6 173.5M254.5 195.5L240.4 212.3M243.2 205.2L240.4 212.3L246.9 208.3M274.5 195.5L260.1 212.1M263.0 205.1L260.1 212.1L266.6 208.2M295.5 195.5L280.2 210.8M283.6 204.1L280.2 210.8L286.9 207.4M315.5 195.5L299.9 210.0M303.5 203.5L299.9 210.0L306.7 206.9M335.5 195.5L322.1 210.9M324.8 204.4L322.1 210.9L328.2 207.3M356.5 195.5L343.7 208.3M346.5 202.7L343.7 208.3L349.3 205.5M376.5 195.5L365.5 204.7M368.2 200.5L365.5 204.7L370.2 202.9M397.5 195.5L388.2 202.0M390.6 198.8L388.2 202.0L392.0 200.8M417.5 195.5L411.1 199.2M412.8 197.3L411.1 199.2L413.6 198.7M519.5 195.5L508.5 198.5M511.8 196.3L508.5 198.5L512.5 198.7M540.5 195.5L529.5 198.6M532.8 196.4L529.5 198.6L533.5 198.8M560.5 195.5L550.9 200.4M553.5 197.7L550.9 200.4L554.6 199.8M581.5 195.5L573.0 199.3M575.4 197.1L573.0 199.3L576.2 198.9M601.5 195.5L595.8 197.7M597.4 196.3L595.8 197.7L597.9 197.6M213.5 221.5L201.4 238.1M203.6 231.3L201.4 238.1L207.2 234.0M233.5 221.5L220.6 239.9M222.8 232.5L220.6 239.9L226.9 235.3M254.5 221.5L241.7 240.4M243.9 232.8L241.7 240.4L248.0 235.6M274.5 221.5L260.7 239.2M263.3 231.8L260.7 239.2L267.2 234.8M295.5 221.5L282.3 239.1M284.7 231.8L282.3 239.1L288.5 234.7M315.5 221.5L301.6 238.1M304.4 231.1L301.6 238.1L308.0 234.1M335.5 221.5L322.7 237.9M325.1 231.1L322.7 237.9L328.7 233.9M356.5 221.5L344.8 235.4M347.1 229.6L344.8 235.4L350.2 232.1M376.5 221.5L366.4 231.6M368.6 227.2L366.4 231.6L370.8 229.4M397.5 221.5L388.7 227.7M390.9 224.7L388.7 227.7L392.3 226.6M417.5 221.5L415.5 224.9M415.8 223.5L415.5 224.9L416.5 224.0M478.5 221.5L468.4 221.9M471.7 220.6L468.4 221.9L471.8 222.8M499.5 221.5L488.9 223.8M492.2 221.9L488.9 223.8L492.6 224.2M519.5 221.5L510.4 226.7M512.9 224.0L510.4 226.7L514.0 226.0M540.5 221.5L531.9 226.9M534.2 224.2L531.9 226.9L535.3 226.0M560.5 221.5L552.8 227.1M554.8 224.4L552.8 227.1L556.0 226.1M581.5 221.5L574.6 226.9M576.3 224.3L574.6 226.9L577.5 225.8M601.5 221.5L594.8 224.5M596.7 222.8L594.8 224.5L597.4 224.2M622.5 221.5L617.2 223.7M618.7 222.4L617.2 223.7L619.2 223.5M213.5 246.5L199.8 265.3M202.3 257.6L199.8 265.3L206.4 260.6M233.5 246.5L219.8 266.1M222.2 258.1L219.8 266.1L226.5 261.1M254.5 246.5L241.1 265.7M243.4 257.9L241.1 265.7L247.6 260.8M274.5 246.5L260.8 264.6M263.4 257.2L260.8 264.6L267.3 260.1M295.5 246.5L282.4 264.5M284.8 257.2L282.4 264.5L288.7 260.0M315.5 246.5L303.1 264.2M305.3 257.0L303.1 264.2L309.1 259.7M335.5 246.5L324.0 263.6M325.9 256.7L324.0 263.6L329.6 259.2M356.5 246.5L346.9 260.2M348.6 254.6L346.9 260.2L351.6 256.7M376.5 246.5L368.0 256.6M369.7 252.4L368.0 256.6L371.9 254.2M397.5 246.5L387.8 252.1M390.4 249.2L387.8 252.1L391.6 251.3M417.5 246.5L407.9 246.5M411.1 245.5L407.9 246.5L411.1 247.5M438.5 246.5L429.5 246.5M432.5 245.5L429.5 246.5L432.5 247.5M458.5 246.5L448.4 251.2M451.2 248.6L448.4 251.2L452.2 250.8M478.5 246.5L468.6 255.4M470.9 251.4L468.6 255.4L472.9 253.5M499.5 246.5L492.2 255.2M493.6 251.5L492.2 255.2L495.5 253.1M519.5 246.5L513.1 254.7M514.3 251.3L513.1 254.7L516.1 252.7M540.5 246.5L534.1 253.9M535.4 250.7L534.1 253.9L537.0 252.1M560.5 246.5L555.4 253.8M556.3 250.9L555.4 253.8L557.9 252.0M581.5 246.5L576.4 252.8M577.4 250.2L576.4 252.8L578.8 251.3M601.5 246.5L595.1 250.0M596.8 248.2L595.1 250.0L597.6 249.6M622.5 246.5L616.7 249.6M618.3 247.9L616.7 249.6L618.9 249.2M642.5 246.5L637.2 249.3M638.7 247.8L637.2 249.3L639.3 249.0M662.5 246.5L658.4 248.8M659.5 247.6L658.4 248.8L660.0 248.5M213.5 272.5L200.7 292.9M202.7 284.8L200.7 292.9L207.2 287.6M233.5 272.5L220.8 292.9M222.8 284.8L220.8 292.9L227.2 287.5M254.5 272.5L241.8 292.1M243.8 284.3L241.8 292.1L248.1 287.0M274.5 272.5L262.2 291.5M264.2 283.9L262.2 291.5L268.3 286.6M295.5 272.5L283.2 290.7M285.3 283.4L283.2 290.7L289.3 286.0M315.5 272.5L303.7 289.9M305.7 282.9L303.7 289.9L309.5 285.5M335.5 272.5L325.6 289.0M327.1 282.5L325.6 289.0L330.7 284.6M356.5 272.5L348.3 285.1M349.6 280.1L348.3 285.1L352.4 281.9M376.5 272.5L369.0 282.5M370.4 278.4L369.0 282.5L372.6 280.0M397.5 272.5L389.0 280.1M391.0 276.7L389.0 280.1L392.7 278.5M417.5 272.5L407.6 277.3M410.4 274.7L407.6 277.3L411.4 276.8M438.5 272.5L428.4 279.3M431.0 276.0L428.4 279.3L432.5 278.2M458.5 272.5L447.9 282.0M450.4 277.7L447.9 282.0L452.4 280.0M478.5 272.5L470.0 282.3M471.7 278.1L470.0 282.3L473.9 280.0M499.5 272.5L492.7 281.2M494.0 277.6L492.7 281.2L495.9 279.0M519.5 272.5L513.7 280.8M514.7 277.4L513.7 280.8L516.5 278.7M540.5 272.5L537.3 281.3M537.4 278.0L537.3 281.3L539.3 278.7M560.5 272.5L557.6 280.6M557.7 277.6L557.6 280.6L559.4 278.2M581.5 272.5L577.7 279.2M578.2 276.5L577.7 279.2L579.6 277.4M601.5 272.5L596.3 276.9M597.5 274.9L596.3 276.9L598.5 276.0M622.5 272.5L618.3 276.7M619.2 274.8L618.3 276.7L620.2 275.8M642.5 272.5L639.3 276.3M639.9 274.7L639.3 276.3L640.8 275.4M662.5 272.5L659.5 275.0M660.2 273.9L659.5 275.0L660.8 274.5M683.5 272.5L681.7 274.7M682.0 273.8L681.7 274.7L682.5 274.2M192.5 298.5L183.3 314.5M184.6 308.2L183.3 314.5L188.1 310.2M213.5 298.5L201.0 320.1M202.8 311.6L201.0 320.1L207.5 314.4M233.5 298.5L222.0 319.3M223.5 311.2L222.0 319.3L228.0 313.7M254.5 298.5L243.9 318.5M245.2 310.8L243.9 318.5L249.5 313.1M274.5 298.5L264.7 317.8M265.8 310.3L264.7 317.8L270.0 312.5M295.5 298.5L286.2 316.7M287.3 309.7L286.2 316.7L291.3 311.7M315.5 298.5L307.2 315.5M308.1 309.0L307.2 315.5L311.8 310.8M335.5 298.5L327.8 313.6M328.7 307.8L327.8 313.6L332.0 309.4M356.5 298.5L349.8 310.6M350.7 305.9L349.8 310.6L353.3 307.3M376.5 298.5L369.6 308.4M370.8 304.4L369.6 308.4L372.9 305.9M397.5 298.5L389.5 306.5M391.2 303.0L389.5 306.5L393.0 304.8M417.5 298.5L408.9 305.7M411.0 302.4L408.9 305.7L412.5 304.3M438.5 298.5L430.0 307.0M431.9 303.3L430.0 307.0L433.7 305.1M458.5 298.5L450.9 307.6M452.4 303.8L450.9 307.6L454.4 305.4M478.5 298.5L472.1 307.7M473.2 304.0L472.1 307.7L475.2 305.4M499.5 298.5L494.4 307.3M495.1 303.9L494.4 307.3L497.0 305.0M519.5 298.5L515.5 307.2M515.9 303.9L515.5 307.2L517.7 304.7M540.5 298.5L537.7 307.0M537.7 303.9L537.7 307.0L539.6 304.5M560.5 298.5L558.1 306.4M558.0 303.5L558.1 306.4L559.7 304.0M581.5 298.5L579.4 305.5M579.3 302.9L579.4 305.5L580.8 303.4M601.5 298.5L599.3 304.4M599.4 302.2L599.3 304.4L600.7 302.7M622.5 298.5L619.9 303.1M620.2 301.3L619.9 303.1L621.2 301.9M642.5 298.5L641.8 302.7M641.6 301.2L641.8 302.7L642.5 301.4M662.5 298.5L662.5 301.8M662.1 300.7L662.5 301.8L662.9 300.7M683.5 298.5L687.2 302.9M685.5 301.8L687.2 302.9L686.4 301.0M703.5 298.5L705.3 301.5M704.3 300.7L705.3 301.5L705.0 300.3M192.5 324.5L183.5 341.4M184.6 334.9L183.5 341.4L188.3 336.8M213.5 324.5L201.8 346.6M203.2 338.0L201.8 346.6L208.0 340.6M233.5 324.5L222.8 345.4M224.1 337.4L222.8 345.4L228.6 339.7M254.5 324.5L244.5 344.1M245.7 336.6L244.5 344.1L249.9 338.8M274.5 324.5L264.8 342.8M266.0 335.7L264.8 342.8L270.0 337.8M295.5 324.5L286.1 341.5M287.3 334.8L286.1 341.5L291.0 336.9M315.5 324.5L306.9 340.0M308.0 334.0L306.9 340.0L311.4 335.8M335.5 324.5L327.8 338.3M328.9 332.9L327.8 338.3L331.9 334.6M356.5 324.5L349.9 335.9M350.9 331.4L349.9 335.9L353.3 332.8M376.5 324.5L369.5 334.1M370.8 330.2L369.5 334.1L372.9 331.7M397.5 324.5L389.8 332.8M391.4 329.2L389.8 332.8L393.2 330.9M417.5 324.5L410.0 332.6M411.6 329.1L410.0 332.6L413.3 330.7M438.5 324.5L431.8 333.1M433.0 329.6L431.8 333.1L434.9 331.0M458.5 324.5L452.7 333.5M453.6 329.9L452.7 333.5L455.6 331.2M478.5 324.5L473.7 333.5M474.3 330.0L473.7 333.5L476.3 331.1M499.5 324.5L495.4 333.2M495.8 329.9L495.4 333.2L497.7 330.8M519.5 324.5L516.4 333.1M516.5 329.9L516.4 333.1L518.3 330.6M540.5 324.5L538.3 332.8M538.1 329.8L538.3 332.8L539.9 330.3M560.5 324.5L558.6 332.0M558.4 329.4L558.6 332.0L560.1 329.8M581.5 324.5L580.1 331.2M579.8 328.8L580.1 331.2L581.3 329.1M601.5 324.5L601.0 330.3M600.5 328.4L601.0 330.3L601.8 328.5M622.5 324.5L622.5 329.1M622.0 327.6L622.5 329.1L623.0 327.6M642.5 324.5L642.5 328.2M642.1 327.0L642.5 328.2L642.9 327.0M662.5 324.5L663.0 327.3M662.5 326.4L663.0 327.3L663.1 326.3M683.5 324.5L684.8 326.7M684.1 326.1L684.8 326.7L684.6 325.8M703.5 324.5L707.0 328.7M705.4 327.7L707.0 328.7L706.3 326.9M724.5 324.5L726.1 327.2M725.3 326.5L726.1 327.2L725.9 326.2M172.5 350.5L163.1 369.9M164.1 362.4L163.1 369.9L168.3 364.5M192.5 350.5L181.5 373.1M182.6 364.4L181.5 373.1L187.6 366.8M213.5 350.5L202.5 373.0M203.7 364.4L202.5 373.0L208.6 366.7M233.5 350.5L223.7 371.4M224.7 363.5L223.7 371.4L229.2 365.6M254.5 350.5L245.4 370.0M246.3 362.6L245.4 370.0L250.5 364.6M274.5 350.5L266.0 368.8M266.8 361.8L266.0 368.8L270.8 363.7M295.5 350.5L287.3 367.3M288.2 360.8L287.3 367.3L291.8 362.6M315.5 350.5L307.9 365.4M308.8 359.7L307.9 365.4L312.0 361.3M335.5 350.5L328.5 363.6M329.4 358.5L328.5 363.6L332.2 360.1M356.5 350.5L350.6 361.6M351.3 357.3L350.6 361.6L353.8 358.6M376.5 350.5L370.6 360.7M371.4 356.7L370.6 360.7L373.7 358.0M397.5 350.5L391.3 360.1M392.3 356.3L391.3 360.1L394.4 357.6M417.5 350.5L411.4 359.8M412.4 356.1L411.4 359.8L414.5 357.4M438.5 350.5L432.7 359.7M433.6 356.0L432.7 359.7L435.6 357.3M458.5 350.5L453.1 359.6M453.9 356.0L453.1 359.6L455.8 357.2M478.5 350.5L473.6 359.4M474.2 355.9L473.6 359.4L476.2 357.0M499.5 350.5L495.2 358.9M495.7 355.7L495.2 358.9L497.5 356.6M519.5 350.5L515.8 358.5M516.1 355.4L515.8 358.5L517.9 356.2M540.5 350.5L538.3 358.2M538.2 355.4L538.3 358.2L539.9 355.9M560.5 350.5L558.9 357.6M558.6 355.1L558.9 357.6L560.2 355.4M581.5 350.5L580.2 356.7M579.9 354.5L580.2 356.7L581.3 354.8M601.5 350.5L599.9 355.6M599.9 353.8L599.9 355.6L601.0 354.1M622.5 350.5L621.2 354.5M621.2 353.1L621.2 354.5L622.1 353.3M642.5 350.5L642.1 353.7M641.9 352.6L642.1 353.7L642.5 352.7M662.5 350.5L662.9 353.0M662.5 352.2L662.9 353.0L663.1 352.1M683.5 350.5L684.2 352.4M683.8 351.9L684.2 352.4L684.2 351.7M703.5 350.5L704.8 352.7M704.1 352.1L704.8 352.7L704.6 351.9M724.5 350.5L727.8 354.5M726.3 353.5L727.8 354.5L727.2 352.8M744.5 350.5L746.2 353.5M745.3 352.7L746.2 353.5L746.0 352.3M765.5 350.5L766.0 351.3M765.7 351.1L766.0 351.3L765.9 351.0M151.5 376.5L140.4 381.7M143.5 378.8L140.4 381.7L144.6 381.2M172.5 376.5L163.1 397.7M163.9 389.7L163.1 397.7L168.5 391.7M192.5 376.5L182.3 399.5M183.1 390.8L182.3 399.5L188.1 393.0M213.5 376.5L203.4 399.2M204.2 390.6L203.4 399.2L209.2 392.8M233.5 376.5L224.6 397.4M225.3 389.5L224.6 397.4L229.8 391.5M254.5 376.5L246.4 395.7M247.0 388.5L246.4 395.7L251.1 390.2M274.5 376.5L266.9 394.3M267.5 387.6L266.9 394.3L271.4 389.3M295.5 376.5L288.3 392.8M288.9 386.6L288.3 392.8L292.4 388.2M315.5 376.5L308.8 391.0M309.4 385.4L308.8 391.0L312.6 386.9M335.5 376.5L329.1 389.6M329.8 384.6L329.1 389.6L332.7 385.9M356.5 376.5L350.9 387.9M351.5 383.6L350.9 387.9L354.0 384.8M376.5 376.5L371.0 387.3M371.6 383.2L371.0 387.3L374.0 384.4M397.5 376.5L392.0 386.8M392.7 382.8L392.0 386.8L394.9 384.0M417.5 376.5L412.2 386.4M412.9 382.6L412.2 386.4L415.0 383.7M438.5 376.5L433.6 386.2M434.1 382.5L433.6 386.2L436.2 383.5M458.5 376.5L454.1 386.0M454.5 382.4L454.1 386.0L456.6 383.4M478.5 376.5L474.7 385.8M475.0 382.3L474.7 385.8L477.0 383.2M499.5 376.5L495.7 385.1M496.0 381.9L495.7 385.1L497.9 382.7M519.5 376.5L516.7 384.7M516.7 381.7L516.7 384.7L518.5 382.3M540.5 376.5L538.1 384.0M538.1 381.2L538.1 384.0L539.7 381.8M560.5 376.5L559.4 383.4M559.0 381.0L559.4 383.4L560.5 381.3M581.5 376.5L580.6 382.4M580.2 380.3L580.6 382.4L581.5 380.5M601.5 376.5L601.5 381.5M601.0 379.8L601.5 381.5L602.0 379.8M622.5 376.5L621.5 380.3M621.4 379.0L621.5 380.3L622.3 379.2M642.5 376.5L642.5 379.4M642.2 378.4L642.5 379.4L642.8 378.4M662.5 376.5L662.9 378.7M662.5 378.0L662.9 378.7L663.0 377.9M683.5 376.5L684.1 378.1M683.7 377.7L684.1 378.1L684.1 377.5M703.5 376.5L704.2 377.7M703.8 377.4L704.2 377.7L704.1 377.2M724.5 376.5L725.5 377.6M725.0 377.4L725.5 377.6L725.3 377.2M744.5 376.5L746.1 377.4M745.4 377.3L746.1 377.4L745.6 376.9M765.5 376.5L766.5 376.7M766.1 376.7L766.5 376.7L766.2 376.5M785.5 376.5L786.3 376.6M786.0 376.7L786.3 376.6L786.1 376.5M151.5 402.5L144.1 419.2M144.7 412.9L144.1 419.2L148.3 414.5M172.5 402.5L162.1 425.9M163.0 417.1L162.1 425.9L168.1 419.3M192.5 402.5L183.1 425.9M183.6 417.1L183.1 425.9L188.7 419.2M213.5 402.5L204.4 424.9M205.0 416.5L204.4 424.9L209.9 418.5M233.5 402.5L225.7 422.8M226.1 415.2L225.7 422.8L230.5 416.9M254.5 402.5L247.4 421.0M247.7 414.1L247.4 421.0L251.8 415.7M274.5 402.5L268.1 419.3M268.4 413.0L268.1 419.3L272.0 414.4M295.5 402.5L289.6 417.1M289.9 411.7L289.6 417.1L293.1 413.0M315.5 402.5L310.0 415.6M310.4 410.6L310.0 415.6L313.2 411.9M335.5 402.5L330.1 414.7M330.5 410.1L330.1 414.7L333.2 411.3M356.5 402.5L351.2 413.9M351.7 409.6L351.2 413.9L354.2 410.7M376.5 402.5L371.2 413.4M371.8 409.2L371.2 413.4L374.1 410.4M397.5 402.5L392.4 413.0M392.9 409.0L392.4 413.0L395.2 410.1M417.5 402.5L412.6 412.6M413.1 408.7L412.6 412.6L415.3 409.8M438.5 402.5L433.8 412.1M434.3 408.4L433.8 412.1L436.4 409.4M458.5 402.5L454.0 411.8M454.5 408.2L454.0 411.8L456.5 409.2M478.5 402.5L474.7 411.6M474.9 408.1L474.7 411.6L476.9 409.0M499.5 402.5L495.6 410.9M496.0 407.7L495.6 410.9L497.8 408.5M519.5 402.5L516.6 410.4M516.7 407.5L516.6 410.4L518.4 408.1M540.5 402.5L538.2 409.7M538.1 407.1L538.2 409.7L539.7 407.6M560.5 402.5L559.4 409.4M559.0 407.0L559.4 409.4L560.5 407.2M581.5 402.5L580.7 408.3M580.3 406.3L580.7 408.3L581.6 406.5M601.5 402.5L601.1 407.4M600.7 405.7L601.1 407.4L601.7 405.8M622.5 402.5L622.2 406.4M621.9 405.1L622.2 406.4L622.7 405.1M642.5 402.5L642.5 405.4M642.2 404.4L642.5 405.4L642.8 404.4M662.5 402.5L662.9 404.6M662.5 404.0L662.9 404.6L663.0 403.9M683.5 402.5L684.0 403.9M683.7 403.5L684.0 403.9L684.0 403.4M703.5 402.5L704.1 403.5M703.8 403.2L704.1 403.5L704.0 403.1M724.5 402.5L725.0 403.1M724.8 403.0L725.0 403.1L724.9 402.9M744.5 402.5L745.1 402.9M744.9 402.8L745.1 402.9L745.0 402.7M765.5 402.5L766.2 402.6M766.0 402.7L766.2 402.6L766.0 402.5M785.5 402.5L786.2 402.6M786.0 402.7L786.2 402.6L786.0 402.5M806.5 402.5L807.1 402.6M806.9 402.6L807.1 402.6L806.9 402.5M172.5 428.5L162.9 453.6M163.3 444.3L162.9 453.6L168.8 446.4M192.5 428.5L183.5 451.9M183.9 443.2L183.5 451.9L189.0 445.2M213.5 428.5L205.5 450.4M205.8 442.3L205.5 450.4L210.5 444.0M233.5 428.5L226.5 447.8M226.7 440.7L226.5 447.8L230.9 442.2M254.5 428.5L248.5 445.9M248.6 439.5L248.5 445.9L252.4 440.8M274.5 428.5L269.2 444.0M269.2 438.3L269.2 444.0L272.6 439.5M295.5 428.5L290.5 442.3M290.6 437.2L290.5 442.3L293.6 438.3M315.5 428.5L310.6 441.3M310.8 436.5L310.6 441.3L313.6 437.6M335.5 428.5L330.6 440.7M330.9 436.1L330.6 440.7L333.5 437.2M356.5 428.5L351.6 439.9M352.0 435.6L351.6 439.9L354.5 436.7M376.5 428.5L371.6 439.5M372.0 435.4L371.6 439.5L374.4 436.4M397.5 428.5L392.8 439.0M393.2 435.0L392.8 439.0L395.5 436.1M417.5 428.5L413.1 438.4M413.5 434.7L413.1 438.4L415.6 435.6M438.5 428.5L434.3 437.9M434.7 434.4L434.3 437.9L436.7 435.3M458.5 428.5L454.6 437.6M454.9 434.2L454.6 437.6L456.9 435.0M478.5 428.5L475.0 437.2M475.2 433.9L475.0 437.2L477.1 434.7M499.5 428.5L496.6 435.7M496.8 433.0L496.6 435.7L498.3 433.6M519.5 428.5L516.9 436.1M516.9 433.3L516.9 436.1L518.6 433.9M540.5 428.5L538.4 435.5M538.3 432.9L538.4 435.5L539.8 433.4M560.5 428.5L559.6 435.1M559.2 432.8L559.6 435.1L560.6 433.0M581.5 428.5L580.7 434.1M580.4 432.2L580.7 434.1L581.6 432.3M601.5 428.5L601.1 433.1M600.7 431.6L601.1 433.1L601.7 431.7M622.5 428.5L622.2 432.1M621.9 430.9L622.2 432.1L622.7 431.0M642.5 428.5L642.5 431.3M642.2 430.4L642.5 431.3L642.8 430.4M662.5 428.5L662.9 430.6M662.5 429.9L662.9 430.6L663.0 429.9M683.5 428.5L684.0 429.8M683.7 429.5L684.0 429.8L684.0 429.3M703.5 428.5L704.0 429.3M703.7 429.1L704.0 429.3L703.9 429.0M724.5 428.5L725.0 429.1M724.8 428.9L725.0 429.1L724.9 428.8M744.5 428.5L745.1 428.9M744.9 428.8L745.1 428.9L745.0 428.7M765.5 428.5L766.2 428.6M765.9 428.7L766.2 428.6L766.0 428.5M785.5 428.5L786.2 428.6M785.9 428.7L786.2 428.6L786.0 428.5M806.5 428.5L807.2 428.6M806.9 428.6L807.2 428.6L807.0 428.5M172.5 454.5L162.8 481.2M163.1 471.3L162.8 481.2L168.9 473.5M192.5 454.5L184.3 478.3M184.4 469.6L184.3 478.3L189.6 471.3M213.5 454.5L206.4 476.3M206.4 468.3L206.4 476.3L211.1 469.9M233.5 454.5L227.5 474.0M227.4 466.9L227.5 474.0L231.6 468.2M254.5 454.5L249.4 472.1M249.2 465.8L249.4 472.1L253.0 466.9M274.5 454.5L269.7 470.2M269.6 464.5L269.7 470.2L273.0 465.5M295.5 454.5L290.9 468.6M290.9 463.5L290.9 468.6L294.0 464.5M315.5 454.5L310.9 467.8M311.0 462.9L310.9 467.8L313.9 463.9M335.5 454.5L331.0 466.8M331.2 462.3L331.0 466.8L333.8 463.2M356.5 454.5L352.0 466.2M352.2 461.9L352.0 466.2L354.8 462.9M519.5 454.5L517.5 460.8M517.4 458.5L517.5 460.8L518.8 458.9M540.5 454.5L538.8 460.6M538.7 458.4L538.8 460.6L540.0 458.8M560.5 454.5L559.6 460.9M559.2 458.7L559.6 460.9L560.6 458.9M581.5 454.5L580.9 460.0M580.5 458.2L580.9 460.0L581.7 458.3M601.5 454.5L601.2 459.0M600.8 457.5L601.2 459.0L601.8 457.6M622.5 454.5L622.4 458.0M622.0 456.8L622.4 458.0L622.8 456.9M642.5 454.5L642.5 457.3M642.2 456.4L642.5 457.3L642.8 456.4M662.5 454.5L662.9 456.5M662.5 455.9L662.9 456.5L663.0 455.8M683.5 454.5L684.0 455.8M683.7 455.4L684.0 455.8L684.0 455.3M703.5 454.5L704.0 455.3M703.7 455.1L704.0 455.3L703.9 455.0M724.5 454.5L725.0 455.0M724.7 454.9L725.0 455.0L724.9 454.8M744.5 454.5L745.1 454.9M744.9 454.8L745.1 454.9L744.9 454.7M765.5 454.5L766.1 454.9M765.9 454.8L766.1 454.9L765.9 454.7M785.5 454.5L786.2 454.6M785.9 454.7L786.2 454.6L786.0 454.5M806.5 454.5L807.2 454.6M806.9 454.7L807.2 454.6L807.0 454.5M192.5 480.5L185.5 502.1M185.4 494.2L185.5 502.1L190.1 495.8M213.5 480.5L207.2 501.1M207.0 493.6L207.2 501.1L211.5 495.0M233.5 480.5L228.2 499.1M227.9 492.4L228.2 499.1L232.0 493.6M254.5 480.5L249.8 496.9M249.6 491.0L249.8 496.9L253.1 492.0M274.5 480.5L270.0 495.1M269.9 489.8L270.0 495.1L273.1 490.8M295.5 480.5L291.1 494.0M291.1 489.1L291.1 494.0L294.0 490.0M315.5 480.5L311.1 493.2M311.2 488.5L311.1 493.2L314.0 489.5M335.5 480.5L331.5 491.6M331.6 487.5L331.5 491.6L334.0 488.4M560.5 480.5L559.2 486.5M559.0 484.4L559.2 486.5L560.3 484.6M581.5 480.5L580.6 485.8M580.3 483.9L580.6 485.8L581.5 484.1M601.5 480.5L601.2 484.8M600.8 483.3L601.2 484.8L601.8 483.4M622.5 480.5L622.4 483.9M622.1 482.7L622.4 483.9L622.8 482.8M642.5 480.5L642.5 483.1M642.2 482.2L642.5 483.1L642.8 482.2M662.5 480.5L662.8 482.4M662.5 481.8L662.8 482.4L662.9 481.7M683.5 480.5L684.0 481.8M683.7 481.4L684.0 481.8L684.0 481.3M703.5 480.5L704.0 481.3M703.7 481.1L704.0 481.3L703.9 481.0M724.5 480.5L725.0 481.1M724.7 480.9L725.0 481.1L724.9 480.8M744.5 480.5L745.1 480.9M744.9 480.8L745.1 480.9L744.9 480.7M765.5 480.5L766.1 480.9M765.9 480.8L766.1 480.9L765.9 480.7M785.5 480.5L786.1 480.8M785.9 480.8L786.1 480.8L785.9 480.7M806.5 480.5L807.0 480.8M806.8 480.7L807.0 480.8L806.8 480.6M254.5 506.5L250.9 519.1M250.7 514.6L250.9 519.1L253.4 515.4M274.5 506.5L271.2 517.4M271.1 513.5L271.2 517.4L273.5 514.2M295.5 506.5L291.7 518.1M291.7 513.9L291.7 518.1L294.2 514.7M315.5 506.5L311.8 517.1M311.9 513.2L311.8 517.1L314.2 514.0M601.5 506.5L601.2 509.8M600.9 508.7L601.2 509.8L601.7 508.8M622.5 506.5L622.4 509.7M622.1 508.6L622.4 509.7L622.8 508.6M642.5 506.5L642.5 508.9M642.2 508.1L642.5 508.9L642.8 508.1M662.5 506.5L662.8 508.2M662.5 507.7L662.8 508.2L662.9 507.6M683.5 506.5L683.9 507.7M683.7 507.4L683.9 507.7L683.9 507.3M703.5 506.5L703.9 507.2M703.7 507.0L703.9 507.2L703.9 507.0M724.5 506.5L724.9 507.1M724.7 507.0L724.9 507.1L724.8 506.9M744.5 506.5L745.1 506.9M744.9 506.8L745.1 506.9L744.9 506.7M765.5 506.5L766.1 506.8M765.9 506.8L766.1 506.8L765.9 506.7" stroke="#fff" stroke-width="1" fill="none" shape-rendering="crispEdges"/><path d="M131 65h1v1h-1zM151 65h1v1h-1zM172 65h1v1h-1zM192 65h1v1h-1zM213 65h1v1h-1zM233 65h1v1h-1zM254 65h1v1h-1zM274 65h1v1h-1zM295 65h1v1h-1zM356 65h1v1h-1zM376 65h1v1h-1zM397 65h1v1h-1zM417 65h1v1h-1zM438 65h1v1h-1zM458 65h1v1h-1zM478 65h1v1h-1zM499 65h1v1h-1zM519 65h1v1h-1zM540 65h1v1h-1zM560 65h1v1h-1zM581 65h1v1h-1zM601 65h1v1h-1zM622 65h1v1h-1zM642 65h1v1h-1zM662 65h1v1h-1zM683 65h1v1h-1zM703 65h1v1h-1zM724 65h1v1h-1zM744 65h1v1h-1zM765 65h1v1h-1zM785 65h1v1h-1zM806 65h1v1h-1zM131 91h1v1h-1zM151 91h1v1h-1zM172 91h1v1h-1zM192 91h1v1h-1zM213 91h1v1h-1zM233 91h1v1h-1zM254 91h1v1h-1zM274 91h1v1h-1zM376 91h1v1h-1zM397 91h1v1h-1zM417 91h1v1h-1zM438 91h1v1h-1zM458 91h1v1h-1zM478 91h1v1h-1zM499 91h1v1h-1zM519 91h1v1h-1zM540 91h1v1h-1zM560 91h1v1h-1zM581 91h1v1h-1zM601 91h1v1h-1zM622 91h1v1h-1zM642 91h1v1h-1zM662 91h1v1h-1zM683 91h1v1h-1zM703 91h1v1h-1zM724 91h1v1h-1zM744 91h1v1h-1zM765 91h1v1h-1zM785 91h1v1h-1zM806 91h1v1h-1zM131 117h1v1h-1zM151 117h1v1h-1zM172 117h1v1h-1zM192 117h1v1h-1zM213 117h1v1h-1zM233 117h1v1h-1zM254 117h1v1h-1zM438 117h1v1h-1zM458 117h1v1h-1zM478 117h1v1h-1zM499 117h1v1h-1zM519 117h1v1h-1zM540 117h1v1h-1zM560 117h1v1h-1zM581 117h1v1h-1zM601 117h1v1h-1zM622 117h1v1h-1zM642 117h1v1h-1zM662 117h1v1h-1zM683 117h1v1h-1zM703 117h1v1h-1zM724 117h1v1h-1zM744 117h1v1h-1zM765 117h1v1h-1zM785 117h1v1h-1zM806 117h1v1h-1zM131 143h1v1h-1zM151 143h1v1h-1zM172 143h1v1h-1zM192 143h1v1h-1zM213 143h1v1h-1zM233 143h1v1h-1zM397 143h1v1h-1zM417 143h1v1h-1zM438 143h1v1h-1zM458 143h1v1h-1zM478 143h1v1h-1zM499 143h1v1h-1zM519 143h1v1h-1zM540 143h1v1h-1zM560 143h1v1h-1zM581 143h1v1h-1zM601 143h1v1h-1zM622 143h1v1h-1zM642 143h1v1h-1zM662 143h1v1h-1zM683 143h1v1h-1zM703 143h1v1h-1zM724 143h1v1h-1zM744 143h1v1h-1zM765 143h1v1h-1zM785 143h1v1h-1zM806 143h1v1h-1zM131 169h1v1h-1zM151 169h1v1h-1zM172 169h1v1h-1zM192 169h1v1h-1zM213 169h1v1h-1zM233 169h1v1h-1zM417 169h1v1h-1zM438 169h1v1h-1zM458 169h1v1h-1zM478 169h1v1h-1zM499 169h1v1h-1zM519 169h1v1h-1zM540 169h1v1h-1zM560 169h1v1h-1zM581 169h1v1h-1zM601 169h1v1h-1zM622 169h1v1h-1zM642 169h1v1h-1zM662 169h1v1h-1zM683 169h1v1h-1zM703 169h1v1h-1zM724 169h1v1h-1zM744 169h1v1h-1zM765 169h1v1h-1zM785 169h1v1h-1zM806 169h1v1h-1zM131 195h1v1h-1zM151 195h1v1h-1zM172 195h1v1h-1zM192 195h1v1h-1zM213 195h1v1h-1zM233 195h1v1h-1zM438 195h1v1h-1zM458 195h1v1h-1zM478 195h1v1h-1zM499 195h1v1h-1zM622 195h1v1h-1zM642 195h1v1h-1zM662 195h1v1h-1zM683 195h1v1h-1zM703 195h1v1h-1zM724 195h1v1h-1zM744 195h1v1h-1zM765 195h1v1h-1zM785 195h1v1h-1zM806 195h1v1h-1zM131 221h1v1h-1zM151 221h1v1h-1zM172 221h1v1h-1zM192 221h1v1h-1zM438 221h1v1h-1zM458 221h1v1h-1zM642 221h1v1h-1zM662 221h1v1h-1zM683 221h1v1h-1zM703 221h1v1h-1zM724 221h1v1h-1zM744 221h1v1h-1zM765 221h1v1h-1zM785 221h1v1h-1zM806 221h1v1h-1zM131 246h1v1h-1zM151 246h1v1h-1zM172 246h1v1h-1zM192 246h1v1h-1zM683 246h1v1h-1zM703 246h1v1h-1zM724 246h1v1h-1zM744 246h1v1h-1zM765 246h1v1h-1zM785 246h1v1h-1zM806 246h1v1h-1zM131 272h1v1h-1zM151 272h1v1h-1zM172 272h1v1h-1zM192 272h1v1h-1zM703 272h1v1h-1zM724 272h1v1h-1zM744 272h1v1h-1zM765 272h1v1h-1zM785 272h1v1h-1zM806 272h1v1h-1zM131 298h1v1h-1zM151 298h1v1h-1zM172 298h1v1h-1zM724 298h1v1h-1zM744 298h1v1h-1zM765 298h1v1h-1zM785 298h1v1h-1zM806 298h1v1h-1zM131 324h1v1h-1zM151 324h1v1h-1zM172 324h1v1h-1zM744 324h1v1h-1zM765 324h1v1h-1zM785 324h1v1h-1zM806 324h1v1h-1zM131 350h1v1h-1zM151 350h1v1h-1zM785 350h1v1h-1zM806 350h1v1h-1zM131 376h1v1h-1zM806 376h1v1h-1zM131 402h1v1h-1zM131 428h1v1h-1zM151 428h1v1h-1zM131 454h1v1h-1zM151 454h1v1h-1zM376 454h1v1h-1zM397 454h1v1h-1zM417 454h1v1h-1zM438 454h1v1h-1zM458 454h1v1h-1zM478 454h1v1h-1zM499 454h1v1h-1zM131 480h1v1h-1zM151 480h1v1h-1zM172 480h1v1h-1zM356 480h1v1h-1zM376 480h1v1h-1zM397 480h1v1h-1zM417 480h1v1h-1zM438 480h1v1h-1zM458 480h1v1h-1zM478 480h1v1h-1zM499 480h1v1h-1zM519 480h1v1h-1zM540 480h1v1h-1zM131 506h1v1h-1zM151 506h1v1h-1zM172 506h1v1h-1zM192 506h1v1h-1zM213 506h1v1h-1zM233 506h1v1h-1zM335 506h1v1h-1zM356 506h1v1h-1zM376 506h1v1h-1zM397 506h1v1h-1zM417 506h1v1h-1zM438 506h1v1h-1zM458 506h1v1h-1zM478 506h1v1h-1zM499 506h1v1h-1zM519 506h1v1h-1zM540 506h1v1h-1zM560 506h1v1h-1zM581 506h1v1h-1zM785 506h1v1h-1zM806 506h1v1h-1zM131 532h1v1h-1zM151 532h1v1h-1zM172 532h1v1h-1zM192 532h1v1h-1zM213 532h1v1h-1zM233 532h1v1h-1zM254 532h1v1h-1zM274 532h1v1h-1zM295 532h1v1h-1zM315 532h1v1h-1zM335 532h1v1h-1zM356 532h1v1h-1zM376 532h1v1h-1zM397 532h1v1h-1zM417 532h1v1h-1zM438 532h1v1h-1zM458 532h1v1h-1zM478 532h1v1h-1zM499 532h1v1h-1zM519 532h1v1h-1zM540 532h1v1h-1zM560 532h1v1h-1zM581 532h1v1h-1zM601 532h1v1h-1zM622 532h1v1h-1zM642 532h1v1h-1zM662 532h1v1h-1zM683 532h1v1h-1zM703 532h1v1h-1zM724 532h1v1h-1zM744 532h1v1h-1zM765 532h1v1h-1zM785 532h1v1h-1zM806 532h1v1h-1z" fill="#fff"/><path d="M159 534h1v-7h-1zM159 46h1v7h-1zM255 534h1v-7h-1zM255 46h1v7h-1zM350 534h1v-7h-1zM350 46h1v7h-1zM446 534h1v-7h-1zM446 46h1v7h-1zM541 534h1v-7h-1zM541 46h1v7h-1zM637 534h1v-7h-1zM637 46h1v7h-1zM732 534h1v-7h-1zM732 46h1v7h-1zM131 520h7v1h-7zM825 520h-7v1h7zM131 437h7v1h-7zM825 437h-7v1h7zM131 354h7v1h-7zM825 354h-7v1h7zM131 270h7v1h-7zM825 270h-7v1h7zM131 187h7v1h-7zM825 187h-7v1h7zM131 103h7v1h-7zM825 103h-7v1h7z" fill="#000"/><rect x="130.5" y="45.5" width="695" height="489" fill="none" stroke="#000" stroke-width="1"/><rect x="831" y="529.90" width="62" height="4.40" fill="#f900f9"/><rect x="831" y="525.00" width="62" height="5.20" fill="#ee00ee"/><rect x="831" y="520.11" width="62" height="5.20" fill="#e300e3"/><rect x="831" y="515.21" width="62" height="5.20" fill="#d800d8"/><rect x="831" y="510.31" width="62" height="5.20" fill="#cc00cc"/><rect x="831" y="505.41" width="62" height="5.20" fill="#c100c1"/><rect x="831" y="500.52" width="62" height="5.20" fill="#b600b6"/><rect x="831" y="495.62" width="62" height="5.20" fill="#ab00ab"/><rect x="831" y="490.72" width="62" height="5.20" fill="#9f009f"/><rect x="831" y="485.82" width="62" height="5.20" fill="#940094"/><rect x="831" y="480.93" width="62" height="5.20" fill="#880088"/><rect x="831" y="476.03" width="62" height="5.20" fill="#7c007c"/><rect x="831" y="471.13" width="62" height="5.20" fill="#710071"/><rect x="831" y="466.23" width="62" height="5.20" fill="#650065"/><rect x="831" y="461.34" width="62" height="5.20" fill="#570057"/><rect x="831" y="456.44" width="62" height="5.20" fill="#470047"/><rect x="831" y="451.54" width="62" height="5.20" fill="#3b003b"/><rect x="831" y="446.64" width="62" height="5.20" fill="#320032"/><rect x="831" y="441.75" width="62" height="5.20" fill="#28003b"/><rect x="831" y="436.85" width="62" height="5.20" fill="#19004a"/><rect x="831" y="431.95" width="62" height="5.20" fill="#0c0454"/><rect x="831" y="427.05" width="62" height="5.20" fill="#010a66"/><rect x="831" y="422.16" width="62" height="5.20" fill="#001470"/><rect x="831" y="417.26" width="62" height="5.20" fill="#002579"/><rect x="831" y="412.36" width="62" height="5.20" fill="#003888"/><rect x="831" y="407.46" width="62" height="5.20" fill="#00478f"/><rect x="831" y="402.57" width="62" height="5.20" fill="#005796"/><rect x="831" y="397.67" width="62" height="5.20" fill="#00689f"/><rect x="831" y="392.77" width="62" height="5.20" fill="#007aa9"/><rect x="831" y="387.87" width="62" height="5.20" fill="#008ab4"/><rect x="831" y="382.98" width="62" height="5.20" fill="#009abe"/><rect x="831" y="378.08" width="62" height="5.20" fill="#00a9c9"/><rect x="831" y="373.18" width="62" height="5.20" fill="#00b8d3"/><rect x="831" y="368.28" width="62" height="5.20" fill="#00cade"/><rect x="831" y="363.39" width="62" height="5.20" fill="#00deeb"/><rect x="831" y="358.49" width="62" height="5.20" fill="#00f6fa"/><rect x="831" y="353.59" width="62" height="5.20" fill="#00ffdf"/><rect x="831" y="348.69" width="62" height="5.20" fill="#00ffab"/><rect x="831" y="343.80" width="62" height="5.20" fill="#00ff62"/><rect x="831" y="338.90" width="62" height="5.20" fill="#00ff28"/><rect x="831" y="334.00" width="62" height="5.20" fill="#00fc00"/><rect x="831" y="329.10" width="62" height="5.20" fill="#00ee00"/><rect x="831" y="324.21" width="62" height="5.20" fill="#00e100"/><rect x="831" y="319.31" width="62" height="5.20" fill="#00d400"/><rect x="831" y="314.41" width="62" height="5.20" fill="#00c600"/><rect x="831" y="309.51" width="62" height="5.20" fill="#00b900"/><rect x="831" y="304.62" width="62" height="5.20" fill="#00ac00"/><rect x="831" y="299.72" width="62" height="5.20" fill="#009f00"/><rect x="831" y="294.82" width="62" height="5.20" fill="#009100"/><rect x="831" y="289.92" width="62" height="5.20" fill="#008400"/><rect x="831" y="285.03" width="62" height="5.20" fill="#007900"/><rect x="831" y="280.13" width="62" height="5.20" fill="#006f00"/><rect x="831" y="275.23" width="62" height="5.20" fill="#006500"/><rect x="831" y="270.33" width="62" height="5.20" fill="#005b00"/><rect x="831" y="265.44" width="62" height="5.20" fill="#005100"/><rect x="831" y="260.54" width="62" height="5.20" fill="#004700"/><rect x="831" y="255.64" width="62" height="5.20" fill="#003d00"/><rect x="831" y="250.74" width="62" height="5.20" fill="#003300"/><rect x="831" y="245.85" width="62" height="5.20" fill="#0c2f09"/><rect x="831" y="240.95" width="62" height="5.20" fill="#1d2d14"/><rect x="831" y="236.05" width="62" height="5.20" fill="#2f2b20"/><rect x="831" y="231.15" width="62" height="5.20" fill="#452a2a"/><rect x="831" y="226.26" width="62" height="5.20" fill="#5b2835"/><rect x="831" y="221.36" width="62" height="5.20" fill="#673239"/><rect x="831" y="216.46" width="62" height="5.20" fill="#713f3b"/><rect x="831" y="211.56" width="62" height="5.20" fill="#7b4b3c"/><rect x="831" y="206.67" width="62" height="5.20" fill="#84583e"/><rect x="831" y="201.77" width="62" height="5.20" fill="#8e6540"/><rect x="831" y="196.87" width="62" height="5.20" fill="#96733a"/><rect x="831" y="191.97" width="62" height="5.20" fill="#9e8132"/><rect x="831" y="187.08" width="62" height="5.20" fill="#a68f2a"/><rect x="831" y="182.18" width="62" height="5.20" fill="#ae9d22"/><rect x="831" y="177.28" width="62" height="5.20" fill="#baad1c"/><rect x="831" y="172.38" width="62" height="5.20" fill="#c8bc16"/><rect x="831" y="167.49" width="62" height="5.20" fill="#d5cc11"/><rect x="831" y="162.59" width="62" height="5.20" fill="#e2dc0c"/><rect x="831" y="157.69" width="62" height="5.20" fill="#efec06"/><rect x="831" y="152.79" width="62" height="5.20" fill="#fcfc01"/><rect x="831" y="147.90" width="62" height="5.20" fill="#ffff00"/><rect x="831" y="143.00" width="62" height="5.20" fill="#fff200"/><rect x="831" y="138.10" width="62" height="5.20" fill="#ffd200"/><rect x="831" y="133.20" width="62" height="5.20" fill="#ffb508"/><rect x="831" y="128.31" width="62" height="5.20" fill="#ff9a19"/><rect x="831" y="123.41" width="62" height="5.20" fill="#ff8030"/><rect x="831" y="118.51" width="62" height="5.20" fill="#ff664a"/><rect x="831" y="113.61" width="62" height="5.20" fill="#fa5657"/><rect x="831" y="108.72" width="62" height="5.20" fill="#f05055"/><rect x="831" y="103.82" width="62" height="5.20" fill="#e64b54"/><rect x="831" y="98.92" width="62" height="5.20" fill="#dc4652"/><rect x="831" y="94.02" width="62" height="5.20" fill="#d14150"/><rect x="831" y="89.13" width="62" height="5.20" fill="#c73b4d"/><rect x="831" y="84.23" width="62" height="5.20" fill="#bc354a"/><rect x="831" y="79.33" width="62" height="5.20" fill="#b12e47"/><rect x="831" y="74.43" width="62" height="5.20" fill="#a62844"/><rect x="831" y="69.54" width="62" height="5.20" fill="#9b2241"/><rect x="831" y="64.64" width="62" height="5.20" fill="#911c3e"/><rect x="831" y="59.74" width="62" height="5.20" fill="#86163b"/><rect x="831" y="54.84" width="62" height="5.20" fill="#7b0f38"/><rect x="831" y="49.95" width="62" height="5.20" fill="#700935"/><rect x="831" y="46.00" width="62" height="4.25" fill="#650332"/><path d="M832 47h5v1h-5zM893 47h-5v1h5zM832 96h5v1h-5zM893 96h-5v1h5zM832 145h5v1h-5zM893 145h-5v1h5zM832 193h5v1h-5zM893 193h-5v1h5zM832 242h5v1h-5zM893 242h-5v1h5zM832 291h5v1h-5zM893 291h-5v1h5zM832 340h5v1h-5zM893 340h-5v1h5zM832 388h5v1h-5zM893 388h-5v1h5zM832 437h5v1h-5zM893 437h-5v1h5zM832 486h5v1h-5zM893 486h-5v1h5z" fill="#000"/><rect x="831.5" y="45.5" width="62" height="489" fill="none" stroke="#000" stroke-width="1"/><g filter="url(#crisp)"><text x="159.5" y="557" text-anchor="middle">28</text><text x="255.5" y="557" text-anchor="middle">30</text><text x="350.5" y="557" text-anchor="middle">32</text><text x="446.5" y="557" text-anchor="middle">34</text><text x="541.5" y="557" text-anchor="middle">36</text><text x="637.5" y="557" text-anchor="middle">38</text><text x="732.5" y="557" text-anchor="middle">40</text><text x="126" y="528" text-anchor="end">41</text><text x="126" y="445" text-anchor="end">42</text><text x="126" y="362" text-anchor="end">43</text><text x="126" y="278" text-anchor="end">44</text><text x="126" y="195" text-anchor="end">45</text><text x="126" y="111" text-anchor="end">46</text><text x="896" y="55">5</text><text x="896" y="104">4.5</text><text x="896" y="153">4</text><text x="896" y="201">3.5</text><text x="896" y="250">3</text><text x="896" y="299">2.5</text><text x="896" y="348">2</text><text x="896" y="396">1.5</text><text x="896" y="445">1</text><text x="896" y="494">0.5</text><g font-weight="bold"><text x="111" y="29" textLength="731" lengthAdjust="spacingAndGlyphs">Wave height (m) &amp; direction (arrows). Date 2008.02.09. Time 06(h):00(m)</text><text x="394" y="581" textLength="166" lengthAdjust="spacingAndGlyphs">Longitude (East)</text><text transform="translate(91,368) rotate(-90)" x="0" y="0" textLength="159" lengthAdjust="spacingAndGlyphs">Latitude (North)</text></g></g></svg></body></html>
